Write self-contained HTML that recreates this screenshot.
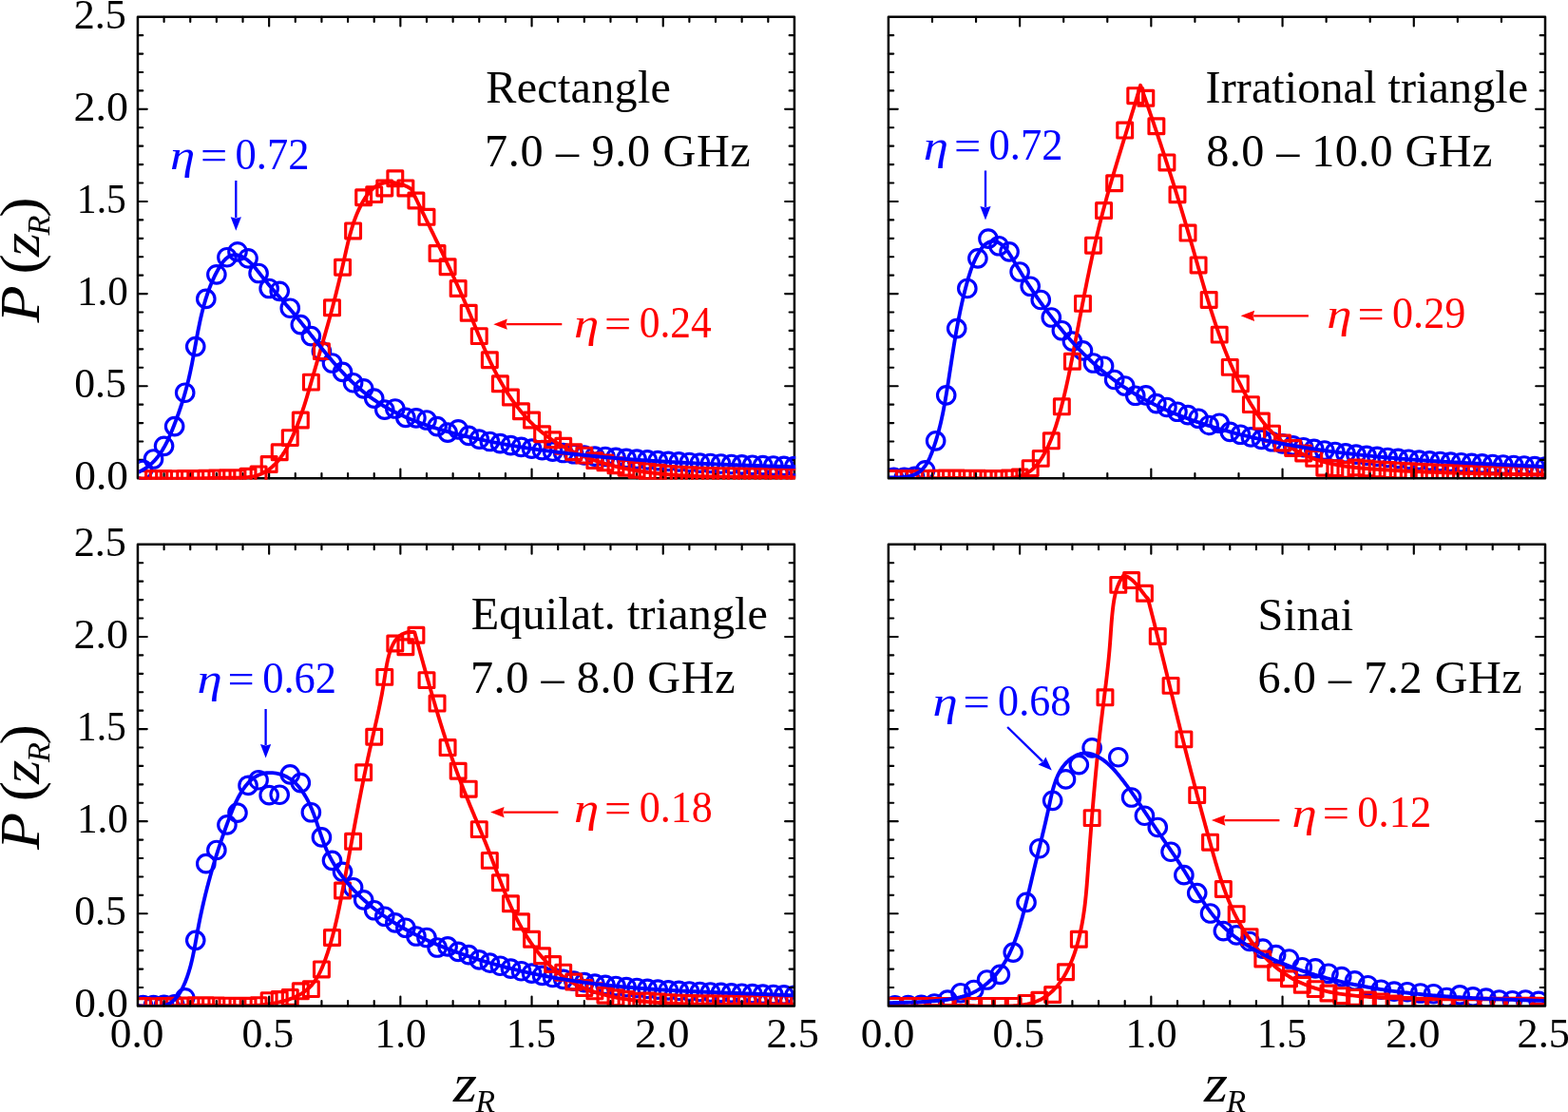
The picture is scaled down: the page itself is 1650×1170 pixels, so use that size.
<!DOCTYPE html>
<html><head><meta charset="utf-8"><title>P(zR) distributions</title>
<style>
html,body{margin:0;padding:0;background:#fff;}
body{width:1650px;height:1170px;overflow:hidden;}
svg{display:block;}
svg text{font-family:"Liberation Serif","DejaVu Serif",serif;fill:#000;}
.i{font-style:italic;}
</style></head><body>
<svg width="1650" height="1170" viewBox="0 0 1650 1170">
<rect width="1650" height="1170" fill="#fff"/>
<defs>
<clipPath id="c0"><rect x="146.2" y="18.95" width="691" height="485.8"/></clipPath>
<clipPath id="c1"><rect x="934.9" y="17.7" width="691.1" height="485.65"/></clipPath>
<clipPath id="c2"><rect x="144.95" y="572.85" width="691" height="485.55"/></clipPath>
<clipPath id="c3"><rect x="934.9" y="572.85" width="691.1" height="485.55"/></clipPath>
</defs>
<g><path d="M144.95 483.92h5.3M835.95 483.92h-5.3M144.95 464.5h5.3M835.95 464.5h-5.3M144.95 445.07h5.3M835.95 445.07h-5.3M144.95 425.65h5.3M835.95 425.65h-5.3M144.95 406.22h9.8M835.95 406.22h-9.8M144.95 386.79h5.3M835.95 386.79h-5.3M144.95 367.37h5.3M835.95 367.37h-5.3M144.95 347.94h5.3M835.95 347.94h-5.3M144.95 328.52h5.3M835.95 328.52h-5.3M144.95 309.09h9.8M835.95 309.09h-9.8M144.95 289.66h5.3M835.95 289.66h-5.3M144.95 270.24h5.3M835.95 270.24h-5.3M144.95 250.81h5.3M835.95 250.81h-5.3M144.95 231.39h5.3M835.95 231.39h-5.3M144.95 211.96h9.8M835.95 211.96h-9.8M144.95 192.53h5.3M835.95 192.53h-5.3M144.95 173.11h5.3M835.95 173.11h-5.3M144.95 153.68h5.3M835.95 153.68h-5.3M144.95 134.26h5.3M835.95 134.26h-5.3M144.95 114.83h9.8M835.95 114.83h-9.8M144.95 95.4h5.3M835.95 95.4h-5.3M144.95 75.98h5.3M835.95 75.98h-5.3M144.95 56.55h5.3M835.95 56.55h-5.3M144.95 37.13h5.3M835.95 37.13h-5.3M172.59 17.7v5.3M172.59 503.35v-5.3M200.23 17.7v5.3M200.23 503.35v-5.3M227.87 17.7v5.3M227.87 503.35v-5.3M255.51 17.7v5.3M255.51 503.35v-5.3M283.15 17.7v9.8M283.15 503.35v-9.8M310.79 17.7v5.3M310.79 503.35v-5.3M338.43 17.7v5.3M338.43 503.35v-5.3M366.07 17.7v5.3M366.07 503.35v-5.3M393.71 17.7v5.3M393.71 503.35v-5.3M421.35 17.7v9.8M421.35 503.35v-9.8M448.99 17.7v5.3M448.99 503.35v-5.3M476.63 17.7v5.3M476.63 503.35v-5.3M504.27 17.7v5.3M504.27 503.35v-5.3M531.91 17.7v5.3M531.91 503.35v-5.3M559.55 17.7v9.8M559.55 503.35v-9.8M587.19 17.7v5.3M587.19 503.35v-5.3M614.83 17.7v5.3M614.83 503.35v-5.3M642.47 17.7v5.3M642.47 503.35v-5.3M670.11 17.7v5.3M670.11 503.35v-5.3M697.75 17.7v9.8M697.75 503.35v-9.8M725.39 17.7v5.3M725.39 503.35v-5.3M753.03 17.7v5.3M753.03 503.35v-5.3M780.67 17.7v5.3M780.67 503.35v-5.3M808.31 17.7v5.3M808.31 503.35v-5.3" stroke="#000" stroke-width="2.15" stroke-linecap="round" fill="none"/>
<rect x="144.95" y="17.7" width="691" height="485.65" fill="none" stroke="#000" stroke-width="2.5" stroke-linejoin="round"/>
<g clip-path="url(#c0)" fill="none">
<g stroke="#0000ff" stroke-width="3.15"><circle cx="150.48" cy="494.4" r="9.25"/><circle cx="161.53" cy="483" r="9.25"/><circle cx="172.59" cy="469.3" r="9.25"/><circle cx="183.65" cy="448.6" r="9.25"/><circle cx="194.7" cy="413.2" r="9.25"/><circle cx="205.76" cy="364.6" r="9.25"/><circle cx="216.81" cy="314.4" r="9.25"/><circle cx="227.87" cy="288.8" r="9.25"/><circle cx="238.93" cy="270.7" r="9.25"/><circle cx="249.98" cy="264.8" r="9.25"/><circle cx="261.04" cy="271.8" r="9.25"/><circle cx="272.09" cy="287.5" r="9.25"/><circle cx="283.15" cy="303.5" r="9.25"/><circle cx="294.21" cy="306.3" r="9.25"/><circle cx="305.26" cy="324.2" r="9.25"/><circle cx="316.32" cy="341.6" r="9.25"/><circle cx="327.37" cy="353.6" r="9.25"/><circle cx="338.43" cy="369.6" r="9.25"/><circle cx="349.49" cy="382" r="9.25"/><circle cx="360.54" cy="391.4" r="9.25"/><circle cx="371.6" cy="402.7" r="9.25"/><circle cx="382.65" cy="408.8" r="9.25"/><circle cx="393.71" cy="419.1" r="9.25"/><circle cx="404.77" cy="431.1" r="9.25"/><circle cx="415.82" cy="430" r="9.25"/><circle cx="426.88" cy="439.4" r="9.25"/><circle cx="437.93" cy="439.8" r="9.25"/><circle cx="448.99" cy="442" r="9.25"/><circle cx="460.05" cy="448.6" r="9.25"/><circle cx="471.1" cy="455.1" r="9.25"/><circle cx="482.16" cy="451.8" r="9.25"/><circle cx="493.21" cy="458.4" r="9.25"/><circle cx="504.27" cy="462.19" r="9.25"/><circle cx="515.33" cy="464.48" r="9.25"/><circle cx="526.38" cy="466.61" r="9.25"/><circle cx="537.44" cy="468.58" r="9.25"/><circle cx="548.49" cy="470.41" r="9.25"/><circle cx="559.55" cy="472.11" r="9.25"/><circle cx="570.61" cy="473.69" r="9.25"/><circle cx="581.66" cy="475.15" r="9.25"/><circle cx="592.72" cy="476.51" r="9.25"/><circle cx="603.77" cy="477.77" r="9.25"/><circle cx="614.83" cy="478.95" r="9.25"/><circle cx="625.89" cy="480.05" r="9.25"/><circle cx="636.94" cy="480.48" r="9.25"/><circle cx="648" cy="481.44" r="9.25"/><circle cx="659.05" cy="482.33" r="9.25"/><circle cx="670.11" cy="483.16" r="9.25"/><circle cx="681.17" cy="483.93" r="9.25"/><circle cx="692.22" cy="484.65" r="9.25"/><circle cx="703.28" cy="485.32" r="9.25"/><circle cx="714.33" cy="485.94" r="9.25"/><circle cx="725.39" cy="486.51" r="9.25"/><circle cx="736.45" cy="487.05" r="9.25"/><circle cx="747.5" cy="487.54" r="9.25"/><circle cx="758.56" cy="488.01" r="9.25"/><circle cx="769.61" cy="488.45" r="9.25"/><circle cx="780.67" cy="488.86" r="9.25"/><circle cx="791.73" cy="489.25" r="9.25"/><circle cx="802.78" cy="489.62" r="9.25"/><circle cx="813.84" cy="489.97" r="9.25"/><circle cx="824.89" cy="490.32" r="9.25"/><circle cx="835.95" cy="490.65" r="9.25"/></g>
<path d="M142.58 495.46h15.8v15.8h-15.8zM153.63 495.58h15.8v15.8h-15.8zM164.69 495.67h15.8v15.8h-15.8zM175.75 495.71h15.8v15.8h-15.8zM186.8 495.68h15.8v15.8h-15.8zM197.86 495.55h15.8v15.8h-15.8zM208.91 495.31h15.8v15.8h-15.8zM219.97 495.03h15.8v15.8h-15.8zM231.03 494.85h15.8v15.8h-15.8zM242.08 494.79h15.8v15.8h-15.8zM253.14 493.3h15.8v15.8h-15.8zM264.19 491h15.8v15.8h-15.8zM275.25 480.6h15.8v15.8h-15.8zM286.31 467.9h15.8v15.8h-15.8zM297.36 452.7h15.8v15.8h-15.8zM308.42 434.1h15.8v15.8h-15.8zM319.47 394.2h15.8v15.8h-15.8zM330.53 361.7h15.8v15.8h-15.8zM341.59 315.9h15.8v15.8h-15.8zM352.64 273.3h15.8v15.8h-15.8zM363.7 235h15.8v15.8h-15.8zM374.75 199.8h15.8v15.8h-15.8zM385.81 196.7h15.8v15.8h-15.8zM396.87 190h15.8v15.8h-15.8zM407.92 179.8h15.8v15.8h-15.8zM418.98 190h15.8v15.8h-15.8zM430.03 203.1h15.8v15.8h-15.8zM441.09 220.4h15.8v15.8h-15.8zM452.15 258.6h15.8v15.8h-15.8zM463.2 272.8h15.8v15.8h-15.8zM474.26 295.6h15.8v15.8h-15.8zM485.31 321.4h15.8v15.8h-15.8zM496.37 345.7h15.8v15.8h-15.8zM507.43 370.8h15.8v15.8h-15.8zM518.48 395.9h15.8v15.8h-15.8zM529.54 410.1h15.8v15.8h-15.8zM540.59 424.9h15.8v15.8h-15.8zM551.65 434.1h15.8v15.8h-15.8zM562.71 448.9h15.8v15.8h-15.8zM573.76 454.8h15.8v15.8h-15.8zM584.82 461.4h15.8v15.8h-15.8zM595.87 467.9h15.8v15.8h-15.8zM606.93 471.2h15.8v15.8h-15.8zM617.99 476.7h15.8v15.8h-15.8zM629.04 478.97h15.8v15.8h-15.8zM640.1 481.87h15.8v15.8h-15.8zM651.15 484.32h15.8v15.8h-15.8zM662.21 486.36h15.8v15.8h-15.8zM673.27 488.03h15.8v15.8h-15.8zM684.32 489.39h15.8v15.8h-15.8zM695.38 490.46h15.8v15.8h-15.8zM706.43 491.28h15.8v15.8h-15.8zM717.49 491.88h15.8v15.8h-15.8zM728.55 492.3h15.8v15.8h-15.8zM739.6 492.56h15.8v15.8h-15.8zM750.66 492.7h15.8v15.8h-15.8zM761.71 492.77h15.8v15.8h-15.8zM772.77 492.8h15.8v15.8h-15.8zM783.83 492.82h15.8v15.8h-15.8zM794.88 492.87h15.8v15.8h-15.8zM805.94 492.98h15.8v15.8h-15.8zM816.99 493.19h15.8v15.8h-15.8zM828.05 493.54h15.8v15.8h-15.8z" stroke="#ff0000" stroke-width="3.15" stroke-linejoin="round"/>
<path d="M144.9 503.3 L146.87 503.32 L148.85 503.34 L150.83 503.37 L152.82 503.39 L154.81 503.41 L156.81 503.43 L158.81 503.45 L160.81 503.47 L162.81 503.49 L164.82 503.51 L166.83 503.53 L168.85 503.54 L170.86 503.56 L172.88 503.57 L174.89 503.58 L176.91 503.59 L178.93 503.6 L180.94 503.61 L182.96 503.61 L184.98 503.61 L186.99 503.61 L189 503.61 L191.01 503.6 L193.02 503.59 L195.02 503.58 L197.03 503.56 L199.02 503.55 L201.02 503.52 L203.01 503.5 L204.99 503.47 L206.97 503.43 L208.95 503.39 L210.92 503.35 L212.88 503.31 L214.85 503.26 L216.81 503.21 L218.77 503.16 L220.73 503.11 L222.69 503.05 L224.66 503 L226.63 502.96 L228.61 502.91 L230.6 502.87 L232.6 502.83 L234.61 502.8 L236.63 502.77 L238.66 502.75 L240.71 502.74 L242.78 502.74 L244.85 502.73 L246.94 502.73 L249.02 502.71 L251.11 502.67 L253.2 502.62 L255.27 502.53 L257.33 502.41 L259.37 502.25 L261.4 502.04 L263.39 501.78 L265.36 501.45 L267.29 501.07 L269.19 500.61 L271.04 500.07 L272.85 499.45 L274.61 498.74 L276.32 497.96 L278 497.11 L279.62 496.17 L281.21 495.17 L282.76 494.1 L284.26 492.97 L285.73 491.77 L287.16 490.51 L288.54 489.2 L289.9 487.83 L291.21 486.4 L292.49 484.93 L293.74 483.42 L294.96 481.85 L296.14 480.25 L297.29 478.61 L298.4 476.93 L299.49 475.23 L300.55 473.49 L301.59 471.72 L302.59 469.93 L303.57 468.11 L304.52 466.28 L305.45 464.43 L306.36 462.56 L307.24 460.68 L308.1 458.8 L308.94 456.91 L309.76 455.01 L310.56 453.12 L311.34 451.22 L312.11 449.33 L312.86 447.44 L313.59 445.55 L314.3 443.67 L315 441.78 L315.69 439.9 L316.36 438.01 L317.02 436.13 L317.67 434.25 L318.31 432.37 L318.93 430.48 L319.55 428.6 L320.15 426.72 L320.75 424.84 L321.34 422.96 L321.92 421.08 L322.49 419.19 L323.06 417.31 L323.62 415.43 L324.18 413.54 L324.73 411.65 L325.28 409.76 L325.83 407.87 L326.37 405.98 L326.92 404.09 L327.46 402.19 L328 400.29 L328.55 398.39 L329.09 396.49 L329.64 394.58 L330.19 392.67 L330.74 390.76 L331.29 388.85 L331.85 386.93 L332.4 385.01 L332.96 383.09 L333.52 381.17 L334.08 379.24 L334.64 377.32 L335.21 375.39 L335.77 373.46 L336.34 371.52 L336.9 369.59 L337.46 367.66 L338.03 365.72 L338.59 363.79 L339.15 361.85 L339.71 359.91 L340.27 357.97 L340.83 356.03 L341.39 354.1 L341.95 352.16 L342.5 350.22 L343.05 348.28 L343.6 346.34 L344.15 344.4 L344.69 342.47 L345.23 340.53 L345.77 338.6 L346.31 336.66 L346.84 334.73 L347.37 332.8 L347.89 330.87 L348.41 328.94 L348.92 327.01 L349.44 325.08 L349.95 323.15 L350.45 321.23 L350.95 319.3 L351.45 317.38 L351.94 315.45 L352.44 313.53 L352.92 311.6 L353.41 309.68 L353.89 307.75 L354.37 305.83 L354.85 303.9 L355.32 301.97 L355.79 300.04 L356.26 298.11 L356.72 296.18 L357.19 294.25 L357.65 292.31 L358.11 290.38 L358.56 288.44 L359.02 286.5 L359.47 284.56 L359.92 282.61 L360.37 280.67 L360.82 278.72 L361.26 276.76 L361.71 274.81 L362.15 272.85 L362.59 270.89 L363.03 268.92 L363.47 266.96 L363.91 264.99 L364.36 263.02 L364.81 261.05 L365.27 259.08 L365.73 257.12 L366.2 255.15 L366.68 253.19 L367.18 251.23 L367.68 249.28 L368.19 247.33 L368.72 245.38 L369.27 243.44 L369.83 241.51 L370.41 239.59 L371 237.67 L371.62 235.76 L372.26 233.86 L372.92 231.97 L373.6 230.09 L374.31 228.22 L375.04 226.37 L375.8 224.52 L376.59 222.69 L377.4 220.87 L378.25 219.07 L379.13 217.28 L380.04 215.51 L380.99 213.75 L381.97 212.01 L382.99 210.29 L384.05 208.6 L385.14 206.94 L386.29 205.32 L387.48 203.75 L388.72 202.25 L390.01 200.81 L391.36 199.45 L392.77 198.17 L394.24 196.99 L395.77 195.91 L397.37 194.94 L399.03 194.08 L400.77 193.36 L402.59 192.77 L404.48 192.32 L406.44 192.03 L408.48 191.88 L410.56 191.86 L412.67 191.98 L414.79 192.21 L416.92 192.56 L419.03 193.01 L421.11 193.56 L423.13 194.2 L425.09 194.92 L426.98 195.71 L428.76 196.57 L430.43 197.48 L431.97 198.45 L432.9 199.1 L433.78 200.91 L434.65 202.72 L435.53 204.53 L436.41 206.34 L437.29 208.14 L438.16 209.95 L439.04 211.75 L439.92 213.56 L440.8 215.36 L441.68 217.16 L442.56 218.96 L443.44 220.77 L444.32 222.57 L445.2 224.37 L446.08 226.16 L446.95 227.96 L447.83 229.76 L448.71 231.56 L449.59 233.36 L450.47 235.15 L451.34 236.95 L452.22 238.75 L453.09 240.54 L453.97 242.34 L454.84 244.13 L455.72 245.93 L456.59 247.73 L457.46 249.52 L458.33 251.32 L459.2 253.11 L460.07 254.91 L460.93 256.71 L461.8 258.5 L462.67 260.3 L463.53 262.1 L464.39 263.9 L465.25 265.69 L466.11 267.49 L466.97 269.29 L467.82 271.09 L468.68 272.89 L469.53 274.69 L470.38 276.49 L471.23 278.3 L472.08 280.1 L472.93 281.9 L473.77 283.71 L474.61 285.51 L475.45 287.32 L476.29 289.13 L477.12 290.94 L477.96 292.75 L478.79 294.56 L479.61 296.37 L480.44 298.18 L481.26 300 L482.08 301.81 L482.9 303.63 L483.72 305.45 L484.53 307.27 L485.34 309.09 L486.15 310.91 L486.95 312.74 L487.75 314.56 L488.55 316.39 L489.35 318.22 L490.14 320.05 L490.93 321.88 L491.72 323.72 L492.5 325.56 L493.28 327.39 L494.05 329.23 L494.83 331.08 L495.6 332.92 L496.36 334.77 L497.13 336.61 L497.89 338.46 L498.65 340.31 L499.42 342.16 L500.18 344.01 L500.94 345.86 L501.7 347.72 L502.47 349.57 L503.23 351.42 L504 353.27 L504.77 355.12 L505.54 356.97 L506.32 358.81 L507.1 360.66 L507.89 362.5 L508.68 364.35 L509.47 366.19 L510.28 368.03 L511.08 369.86 L511.9 371.7 L512.72 373.53 L513.55 375.36 L514.39 377.18 L515.23 379.01 L516.09 380.82 L516.96 382.64 L517.83 384.45 L518.72 386.25 L519.61 388.06 L520.52 389.85 L521.44 391.65 L522.37 393.43 L523.32 395.21 L524.28 396.99 L525.25 398.76 L526.24 400.53 L527.23 402.28 L528.25 404.03 L529.27 405.78 L530.31 407.51 L531.37 409.23 L532.43 410.95 L533.52 412.66 L534.61 414.35 L535.72 416.04 L536.85 417.71 L537.99 419.37 L539.14 421.03 L540.31 422.66 L541.49 424.29 L542.69 425.9 L543.9 427.5 L545.13 429.08 L546.38 430.65 L547.63 432.2 L548.91 433.74 L550.2 435.26 L551.5 436.77 L552.82 438.26 L554.16 439.73 L555.51 441.18 L556.87 442.61 L558.26 444.02 L559.66 445.42 L561.07 446.79 L562.5 448.15 L563.95 449.48 L565.41 450.79 L566.89 452.08 L568.39 453.35 L569.9 454.6 L571.43 455.82 L572.98 457.03 L574.53 458.21 L576.11 459.37 L577.7 460.51 L579.3 461.64 L580.92 462.74 L582.55 463.82 L584.19 464.88 L585.85 465.92 L587.52 466.94 L589.21 467.94 L590.9 468.93 L592.61 469.89 L594.33 470.84 L596.07 471.76 L597.81 472.67 L599.57 473.56 L601.34 474.44 L603.11 475.29 L604.9 476.13 L606.7 476.94 L608.51 477.75 L610.33 478.53 L612.16 479.3 L614 480.05 L615.85 480.78 L617.71 481.5 L619.57 482.2 L621.45 482.88 L623.33 483.55 L625.22 484.21 L627.11 484.84 L629.02 485.47 L630.93 486.07 L632.85 486.66 L634.78 487.24 L636.71 487.8 L638.65 488.35 L640.59 488.88 L642.54 489.4 L644.5 489.91 L646.46 490.4 L648.42 490.88 L650.39 491.34 L652.37 491.79 L654.34 492.23 L656.33 492.66 L658.31 493.07 L660.3 493.47 L662.29 493.86 L664.29 494.23 L666.29 494.59 L668.29 494.95 L670.29 495.29 L672.29 495.61 L674.3 495.93 L676.31 496.24 L678.31 496.53 L680.32 496.82 L682.33 497.09 L684.34 497.35 L686.35 497.61 L688.36 497.85 L690.37 498.08 L692.38 498.31 L694.39 498.52 L696.4 498.73 L698.4 498.92 L700.41 499.11 L702.41 499.29 L704.41 499.46 L706.41 499.62 L708.41 499.77 L710.41 499.92 L712.41 500.06 L714.4 500.19 L716.4 500.31 L718.39 500.43 L720.39 500.54 L722.38 500.64 L724.37 500.74 L726.36 500.83 L728.35 500.91 L730.34 500.99 L732.33 501.06 L734.32 501.13 L736.31 501.19 L738.29 501.25 L740.28 501.3 L742.27 501.35 L744.25 501.39 L746.24 501.43 L748.22 501.47 L750.21 501.5 L752.19 501.53 L754.18 501.56 L756.16 501.58 L758.15 501.6 L760.14 501.62 L762.12 501.63 L764.11 501.65 L766.09 501.66 L768.08 501.67 L770.06 501.67 L772.05 501.68 L774.04 501.69 L776.02 501.69 L778.01 501.69 L780 501.7 L781.99 501.7 L783.98 501.7 L785.97 501.71 L787.96 501.71 L789.95 501.71 L791.94 501.72 L793.93 501.72 L795.93 501.73 L797.92 501.74 L799.92 501.75 L801.91 501.76 L803.91 501.77 L805.91 501.79 L807.91 501.81 L809.91 501.83 L811.91 501.85 L813.92 501.88 L815.92 501.91 L817.93 501.95 L819.94 501.98 L821.95 502.02 L823.96 502.07 L825.97 502.12 L827.98 502.17 L830 502.23 L832.02 502.3 L834.04 502.37 L836.06 502.44 L837.5 502.5" stroke="#ff0000" stroke-width="3.9" stroke-linejoin="round"/>
<path d="M144.9 497 L146.86 496.14 L148.75 495.21 L150.57 494.22 L152.33 493.17 L154.02 492.06 L155.65 490.89 L157.21 489.67 L158.72 488.4 L160.18 487.07 L161.58 485.7 L162.93 484.29 L164.23 482.83 L165.48 481.33 L166.69 479.79 L167.85 478.21 L168.97 476.6 L170.05 474.96 L171.1 473.29 L172.11 471.58 L173.08 469.86 L174.03 468.11 L174.95 466.34 L175.84 464.54 L176.7 462.74 L177.55 460.91 L178.37 459.08 L179.18 457.23 L179.96 455.38 L180.74 453.51 L181.5 451.65 L182.25 449.78 L182.99 447.91 L183.73 446.04 L184.45 444.17 L185.16 442.29 L185.86 440.42 L186.55 438.54 L187.23 436.65 L187.9 434.77 L188.57 432.88 L189.21 430.99 L189.85 429.1 L190.48 427.21 L191.1 425.31 L191.71 423.41 L192.31 421.51 L192.89 419.6 L193.47 417.7 L194.03 415.78 L194.59 413.87 L195.13 411.95 L195.66 410.03 L196.18 408.11 L196.69 406.18 L197.19 404.25 L197.68 402.32 L198.16 400.38 L198.62 398.44 L199.08 396.49 L199.52 394.54 L199.95 392.59 L200.37 390.63 L200.79 388.68 L201.19 386.71 L201.59 384.75 L201.98 382.78 L202.36 380.81 L202.74 378.84 L203.11 376.87 L203.48 374.9 L203.85 372.92 L204.21 370.95 L204.57 368.97 L204.93 366.99 L205.28 365.01 L205.64 363.04 L206 361.06 L206.36 359.08 L206.72 357.1 L207.09 355.13 L207.45 353.15 L207.83 351.18 L208.2 349.2 L208.59 347.23 L208.97 345.26 L209.37 343.3 L209.77 341.33 L210.19 339.37 L210.61 337.41 L211.04 335.45 L211.48 333.5 L211.93 331.55 L212.4 329.6 L212.87 327.66 L213.36 325.72 L213.87 323.79 L214.39 321.86 L214.92 319.93 L215.47 318.01 L216.04 316.1 L216.62 314.19 L217.23 312.29 L217.85 310.39 L218.49 308.5 L219.15 306.61 L219.84 304.73 L220.54 302.86 L221.27 301 L222.02 299.14 L222.8 297.29 L223.6 295.45 L224.42 293.61 L225.27 291.79 L226.15 289.97 L227.05 288.16 L227.98 286.36 L228.95 284.57 L229.94 282.79 L230.96 281.04 L232.02 279.33 L233.12 277.68 L234.27 276.1 L235.46 274.62 L236.7 273.25 L238 272.01 L239.35 270.91 L240.77 269.97 L242.25 269.21 L243.79 268.64 L245.41 268.29 L247.11 268.16 L248.88 268.28 L250.73 268.65 L252.63 269.26 L254.56 270.08 L256.48 271.07 L258.38 272.23 L260.21 273.51 L261.95 274.9 L263.58 276.36 L265.12 277.89 L266.56 279.47 L267.94 281.08 L269.28 282.72 L270.57 284.37 L271.86 286.01 L273.14 287.64 L274.42 289.25 L275.7 290.85 L276.99 292.43 L278.27 294 L279.56 295.55 L280.85 297.1 L282.13 298.63 L283.42 300.15 L284.71 301.67 L285.99 303.17 L287.28 304.67 L288.57 306.16 L289.85 307.65 L291.14 309.13 L292.43 310.61 L293.71 312.08 L294.99 313.55 L296.28 315.02 L297.56 316.49 L298.84 317.96 L300.12 319.44 L301.4 320.91 L302.67 322.39 L303.95 323.87 L305.22 325.36 L306.49 326.85 L307.76 328.35 L309.03 329.86 L310.29 331.37 L311.56 332.9 L312.82 334.43 L314.08 335.97 L315.33 337.51 L316.59 339.06 L317.85 340.62 L319.1 342.18 L320.36 343.74 L321.61 345.31 L322.87 346.89 L324.13 348.46 L325.38 350.04 L326.64 351.62 L327.9 353.21 L329.16 354.79 L330.43 356.38 L331.69 357.96 L332.96 359.55 L334.23 361.13 L335.51 362.71 L336.78 364.3 L338.07 365.88 L339.35 367.45 L340.64 369.03 L341.93 370.6 L343.23 372.16 L344.53 373.72 L345.84 375.28 L347.15 376.83 L348.47 378.37 L349.79 379.91 L351.12 381.44 L352.46 382.97 L353.8 384.48 L355.15 385.99 L356.51 387.49 L357.87 388.97 L359.25 390.45 L360.63 391.92 L362.02 393.38 L363.41 394.82 L364.82 396.26 L366.23 397.68 L367.66 399.09 L369.09 400.48 L370.54 401.87 L371.99 403.23 L373.45 404.59 L374.93 405.92 L376.41 407.24 L377.91 408.55 L379.42 409.84 L380.94 411.11 L382.47 412.36 L384.01 413.6 L385.57 414.82 L387.14 416.01 L388.72 417.19 L390.32 418.35 L391.92 419.49 L393.54 420.61 L395.17 421.72 L396.82 422.8 L398.47 423.87 L400.14 424.91 L401.82 425.94 L403.51 426.96 L405.21 427.95 L406.92 428.93 L408.64 429.89 L410.37 430.84 L412.11 431.77 L413.86 432.68 L415.62 433.58 L417.39 434.46 L419.17 435.32 L420.95 436.18 L422.75 437.01 L424.55 437.83 L426.37 438.64 L428.19 439.43 L430.01 440.21 L431.85 440.98 L433.69 441.73 L435.54 442.47 L437.4 443.2 L439.26 443.91 L441.13 444.61 L443.01 445.3 L444.89 445.98 L446.78 446.65 L448.67 447.3 L450.57 447.94 L452.48 448.57 L454.38 449.2 L456.3 449.81 L458.22 450.41 L460.14 451 L462.07 451.58 L464 452.15 L465.93 452.71 L467.87 453.26 L469.81 453.81 L471.75 454.34 L473.7 454.87 L475.64 455.39 L477.6 455.9 L479.55 456.4 L481.5 456.9 L483.46 457.39 L485.42 457.87 L487.38 458.34 L489.34 458.81 L491.3 459.27 L493.26 459.73 L495.22 460.18 L497.18 460.63 L499.15 461.07 L501.11 461.5 L503.07 461.93 L505.04 462.35 L507 462.77 L508.96 463.18 L510.93 463.59 L512.89 463.99 L514.86 464.39 L516.83 464.78 L518.79 465.16 L520.76 465.54 L522.72 465.92 L524.69 466.29 L526.66 466.66 L528.63 467.02 L530.6 467.38 L532.56 467.73 L534.53 468.08 L536.5 468.42 L538.47 468.76 L540.44 469.09 L542.41 469.42 L544.38 469.75 L546.36 470.07 L548.33 470.39 L550.3 470.7 L552.27 471.01 L554.24 471.31 L556.22 471.61 L558.19 471.91 L560.17 472.2 L562.14 472.49 L564.11 472.78 L566.09 473.06 L568.07 473.34 L570.04 473.61 L572.02 473.88 L574 474.15 L575.97 474.41 L577.95 474.67 L579.93 474.93 L581.91 475.18 L583.89 475.43 L585.87 475.68 L587.85 475.92 L589.83 476.16 L591.81 476.4 L593.79 476.63 L595.77 476.86 L597.75 477.09 L599.73 477.32 L601.72 477.54 L603.7 477.76 L605.69 477.98 L607.67 478.2 L609.65 478.41 L611.64 478.62 L613.63 478.83 L615.61 479.03 L617.6 479.23 L619.58 479.43 L621.57 479.63 L623.56 479.83 L625.55 480.02 L627.54 480.21 L629.53 480.4 L631.51 480.59 L633.5 480.77 L635.49 480.95 L637.48 481.13 L639.48 481.31 L641.47 481.48 L643.46 481.65 L645.45 481.83 L647.44 481.99 L649.43 482.16 L651.43 482.32 L653.42 482.49 L655.41 482.65 L657.41 482.8 L659.4 482.96 L661.4 483.11 L663.39 483.27 L665.38 483.42 L667.38 483.56 L669.37 483.71 L671.37 483.85 L673.37 484 L675.36 484.14 L677.36 484.27 L679.36 484.41 L681.35 484.55 L683.35 484.68 L685.35 484.81 L687.34 484.94 L689.34 485.07 L691.34 485.2 L693.34 485.32 L695.33 485.44 L697.33 485.57 L699.33 485.68 L701.33 485.8 L703.33 485.92 L705.33 486.04 L707.33 486.15 L709.33 486.26 L711.32 486.37 L713.32 486.48 L715.32 486.59 L717.32 486.7 L719.32 486.8 L721.32 486.9 L723.32 487.01 L725.32 487.11 L727.32 487.21 L729.32 487.31 L731.32 487.4 L733.32 487.5 L735.32 487.59 L737.32 487.69 L739.32 487.78 L741.32 487.87 L743.32 487.96 L745.32 488.05 L747.33 488.14 L749.33 488.22 L751.33 488.31 L753.33 488.39 L755.33 488.48 L757.33 488.56 L759.33 488.64 L761.33 488.72 L763.33 488.8 L765.33 488.88 L767.33 488.96 L769.33 489.04 L771.33 489.11 L773.33 489.19 L775.33 489.26 L777.33 489.34 L779.33 489.41 L781.33 489.48 L783.33 489.55 L785.33 489.62 L787.33 489.69 L789.32 489.76 L791.32 489.83 L793.32 489.9 L795.32 489.97 L797.32 490.04 L799.32 490.1 L801.32 490.17 L803.31 490.23 L805.31 490.3 L807.31 490.36 L809.31 490.43 L811.3 490.49 L813.3 490.56 L815.3 490.62 L817.3 490.68 L819.29 490.74 L821.29 490.81 L823.28 490.87 L825.28 490.93 L827.28 490.99 L829.27 491.05 L831.27 491.11 L833.26 491.17 L835.26 491.23 L837.25 491.29 L837.5 491.3" stroke="#0000ff" stroke-width="3.9" stroke-linejoin="round"/>
</g>
<path d="M248.3 190L248.3 229.2" stroke="#0000ff" stroke-width="2.3" fill="none"/>
<path d="M248.3 242.7L242.7 228.2L248.3 229.7L253.9 228.2z" fill="#0000ff"/>
<path d="M591.3 341.2L532.8 341.2" stroke="#ff0000" stroke-width="2.3" fill="none"/>
<path d="M519.3 341.2L533.8 335.6L532.3 341.2L533.8 346.8z" fill="#ff0000"/>
<text x="511.31" y="107.95" font-size="48.2" textLength="194.66" lengthAdjust="spacing">Rectangle</text>
<text x="510.12" y="174.65" font-size="48.2" textLength="279.62" lengthAdjust="spacing">7.0 – 9.0 GHz</text>
<text transform="translate(178.91,178.10) scale(1.1698,1)" font-size="45.3" class="i" style="fill:#0000ff">η</text>
<text transform="translate(211.01,178.10) scale(1.1053,1)" font-size="45.3" style="fill:#0000ff">=</text>
<text transform="translate(247.60,178.10) scale(0.9600,1)" font-size="46.4" style="fill:#0000ff">0.72</text>
<text transform="translate(604.01,355.20) scale(1.1698,1)" font-size="45.3" class="i" style="fill:#ff0000">η</text>
<text transform="translate(636.11,355.20) scale(1.1053,1)" font-size="45.3" style="fill:#ff0000">=</text>
<text transform="translate(672.74,355.20) scale(0.9376,1)" font-size="46.4" style="fill:#ff0000">0.24</text>
<text transform="translate(78.27,515.35) scale(1.0068,1)" font-size="45.1">0.0</text>
<text transform="translate(78.23,418.22) scale(0.9698,1)" font-size="45.1">0.5</text>
<text transform="translate(80.90,321.09) scale(0.9587,1)" font-size="45.1">1.0</text>
<text transform="translate(80.85,223.96) scale(0.9220,1)" font-size="45.1">1.5</text>
<text transform="translate(77.48,126.83) scale(1.0213,1)" font-size="45.1">2.0</text>
<text transform="translate(77.66,29.70) scale(0.9804,1)" font-size="45.1">2.5</text></g>
<g><g clip-path="url(#c1)" fill="none">
<g stroke="#0000ff" stroke-width="3.15"><circle cx="940.43" cy="502.22" r="9.25"/><circle cx="951.49" cy="502.22" r="9.25"/><circle cx="962.54" cy="501.35" r="9.25"/><circle cx="973.6" cy="494.8" r="9.25"/><circle cx="984.66" cy="463.82" r="9.25"/><circle cx="995.72" cy="415.82" r="9.25"/><circle cx="1006.77" cy="345.56" r="9.25"/><circle cx="1017.83" cy="303.45" r="9.25"/><circle cx="1028.89" cy="271.82" r="9.25"/><circle cx="1039.95" cy="251.09" r="9.25"/><circle cx="1051" cy="258.73" r="9.25"/><circle cx="1062.06" cy="264.84" r="9.25"/><circle cx="1073.12" cy="286" r="9.25"/><circle cx="1084.18" cy="301.27" r="9.25"/><circle cx="1095.24" cy="315.45" r="9.25"/><circle cx="1106.29" cy="334" r="9.25"/><circle cx="1117.35" cy="347.75" r="9.25"/><circle cx="1128.41" cy="359.09" r="9.25"/><circle cx="1139.47" cy="368.91" r="9.25"/><circle cx="1150.52" cy="382" r="9.25"/><circle cx="1161.58" cy="385.27" r="9.25"/><circle cx="1172.64" cy="399.45" r="9.25"/><circle cx="1183.7" cy="406" r="9.25"/><circle cx="1194.75" cy="416.25" r="9.25"/><circle cx="1205.81" cy="415.82" r="9.25"/><circle cx="1216.87" cy="424.55" r="9.25"/><circle cx="1227.93" cy="428.47" r="9.25"/><circle cx="1238.98" cy="433.27" r="9.25"/><circle cx="1250.04" cy="436.55" r="9.25"/><circle cx="1261.1" cy="440.25" r="9.25"/><circle cx="1272.16" cy="447.45" r="9.25"/><circle cx="1283.21" cy="445.27" r="9.25"/><circle cx="1294.27" cy="454.36" r="9.25"/><circle cx="1305.33" cy="457.24" r="9.25"/><circle cx="1316.39" cy="459.92" r="9.25"/><circle cx="1327.44" cy="462.41" r="9.25"/><circle cx="1338.5" cy="464.73" r="9.25"/><circle cx="1349.56" cy="466.87" r="9.25"/><circle cx="1360.62" cy="468.86" r="9.25"/><circle cx="1371.68" cy="470.71" r="9.25"/><circle cx="1382.73" cy="472.43" r="9.25"/><circle cx="1393.79" cy="474.03" r="9.25"/><circle cx="1404.85" cy="475.51" r="9.25"/><circle cx="1415.91" cy="476.88" r="9.25"/><circle cx="1426.96" cy="478.16" r="9.25"/><circle cx="1438.02" cy="479.34" r="9.25"/><circle cx="1449.08" cy="480.43" r="9.25"/><circle cx="1460.14" cy="481.45" r="9.25"/><circle cx="1471.19" cy="482.39" r="9.25"/><circle cx="1482.25" cy="483.26" r="9.25"/><circle cx="1493.31" cy="484.06" r="9.25"/><circle cx="1504.37" cy="484.81" r="9.25"/><circle cx="1515.42" cy="485.52" r="9.25"/><circle cx="1526.48" cy="486.17" r="9.25"/><circle cx="1537.54" cy="486.79" r="9.25"/><circle cx="1548.6" cy="487.38" r="9.25"/><circle cx="1559.65" cy="487.94" r="9.25"/><circle cx="1570.71" cy="488.48" r="9.25"/><circle cx="1581.77" cy="489.01" r="9.25"/><circle cx="1592.83" cy="489.53" r="9.25"/><circle cx="1603.88" cy="490.04" r="9.25"/><circle cx="1614.94" cy="490.56" r="9.25"/><circle cx="1626" cy="491.09" r="9.25"/></g>
<path d="M932.53 495.46h15.8v15.8h-15.8zM943.59 495.61h15.8v15.8h-15.8zM954.64 495.59h15.8v15.8h-15.8zM965.7 495.46h15.8v15.8h-15.8zM976.76 495.29h15.8v15.8h-15.8zM987.82 495.15h15.8v15.8h-15.8zM998.87 495.11h15.8v15.8h-15.8zM1009.93 495.22h15.8v15.8h-15.8zM1020.99 495.43h15.8v15.8h-15.8zM1032.05 495.61h15.8v15.8h-15.8zM1043.1 495.67h15.8v15.8h-15.8zM1054.16 495.15h15.8v15.8h-15.8zM1065.22 494.1h15.8v15.8h-15.8zM1076.28 484.72h15.8v15.8h-15.8zM1087.34 474.46h15.8v15.8h-15.8zM1098.39 455.92h15.8v15.8h-15.8zM1109.45 419.92h15.8v15.8h-15.8zM1120.51 372.35h15.8v15.8h-15.8zM1131.57 311.48h15.8v15.8h-15.8zM1142.62 250.28h15.8v15.8h-15.8zM1153.68 213.63h15.8v15.8h-15.8zM1164.74 184.83h15.8v15.8h-15.8zM1175.8 129.19h15.8v15.8h-15.8zM1186.85 92.75h15.8v15.8h-15.8zM1197.91 95.37h15.8v15.8h-15.8zM1208.97 124.83h15.8v15.8h-15.8zM1220.03 163.01h15.8v15.8h-15.8zM1231.08 196.83h15.8v15.8h-15.8zM1242.14 237.19h15.8v15.8h-15.8zM1253.2 271.01h15.8v15.8h-15.8zM1264.26 307.55h15.8v15.8h-15.8zM1275.31 344.21h15.8v15.8h-15.8zM1286.37 378.46h15.8v15.8h-15.8zM1297.43 395.92h15.8v15.8h-15.8zM1308.49 417.74h15.8v15.8h-15.8zM1319.54 435.19h15.8v15.8h-15.8zM1330.6 448.28h15.8v15.8h-15.8zM1341.66 458.1h15.8v15.8h-15.8zM1352.72 463.55h15.8v15.8h-15.8zM1363.78 469.01h15.8v15.8h-15.8zM1374.83 474.46h15.8v15.8h-15.8zM1385.89 484.28h15.8v15.8h-15.8zM1396.95 484.72h15.8v15.8h-15.8zM1408.01 486.46h15.8v15.8h-15.8zM1419.06 484.09h15.8v15.8h-15.8zM1430.12 485.15h15.8v15.8h-15.8zM1441.18 485.97h15.8v15.8h-15.8zM1452.24 486.66h15.8v15.8h-15.8zM1463.29 487.28h15.8v15.8h-15.8zM1474.35 487.85h15.8v15.8h-15.8zM1485.41 488.36h15.8v15.8h-15.8zM1496.47 488.81h15.8v15.8h-15.8zM1507.52 489.22h15.8v15.8h-15.8zM1518.58 489.58h15.8v15.8h-15.8zM1529.64 489.9h15.8v15.8h-15.8zM1540.7 490.18h15.8v15.8h-15.8zM1551.75 490.43h15.8v15.8h-15.8zM1562.81 490.65h15.8v15.8h-15.8zM1573.87 490.85h15.8v15.8h-15.8zM1584.93 491.03h15.8v15.8h-15.8zM1595.98 491.19h15.8v15.8h-15.8zM1607.04 491.34h15.8v15.8h-15.8zM1618.1 491.48h15.8v15.8h-15.8z" stroke="#ff0000" stroke-width="3.15" stroke-linejoin="round"/>
<path d="M934.9 503.2 L936.91 503.27 L938.92 503.32 L940.92 503.37 L942.93 503.41 L944.93 503.45 L946.94 503.47 L948.94 503.49 L950.94 503.51 L952.94 503.52 L954.95 503.52 L956.95 503.52 L958.95 503.51 L960.95 503.5 L962.94 503.49 L964.94 503.47 L966.94 503.45 L968.94 503.42 L970.93 503.4 L972.93 503.37 L974.92 503.34 L976.92 503.31 L978.91 503.28 L980.91 503.25 L982.9 503.22 L984.9 503.19 L986.89 503.16 L988.88 503.13 L990.87 503.11 L992.87 503.08 L994.86 503.06 L996.85 503.04 L998.84 503.03 L1000.83 503.02 L1002.82 503.01 L1004.81 503.01 L1006.8 503.01 L1008.79 503.02 L1010.79 503.04 L1012.78 503.06 L1014.77 503.08 L1016.76 503.11 L1018.76 503.14 L1020.75 503.17 L1022.75 503.21 L1024.75 503.25 L1026.76 503.28 L1028.77 503.32 L1030.78 503.36 L1032.8 503.4 L1034.83 503.44 L1036.86 503.47 L1038.89 503.5 L1040.94 503.53 L1042.99 503.55 L1045.05 503.57 L1047.11 503.58 L1049.18 503.58 L1051.25 503.57 L1053.32 503.54 L1055.38 503.48 L1057.43 503.39 L1059.47 503.27 L1061.49 503.11 L1063.5 502.9 L1065.47 502.65 L1067.42 502.34 L1069.34 501.97 L1071.23 501.53 L1073.08 501.03 L1074.88 500.45 L1076.64 499.79 L1078.36 499.05 L1080.02 498.22 L1081.62 497.3 L1083.17 496.29 L1084.67 495.19 L1086.12 494.02 L1087.52 492.76 L1088.87 491.44 L1090.17 490.05 L1091.43 488.6 L1092.65 487.09 L1093.82 485.53 L1094.95 483.92 L1096.05 482.26 L1097.11 480.57 L1098.13 478.84 L1099.12 477.08 L1100.08 475.3 L1101.01 473.49 L1101.91 471.67 L1102.78 469.84 L1103.62 467.99 L1104.44 466.13 L1105.23 464.27 L1106 462.39 L1106.75 460.51 L1107.48 458.61 L1108.19 456.71 L1108.87 454.81 L1109.54 452.89 L1110.19 450.97 L1110.83 449.05 L1111.45 447.12 L1112.05 445.19 L1112.64 443.26 L1113.22 441.32 L1113.79 439.38 L1114.35 437.44 L1114.89 435.5 L1115.43 433.56 L1115.96 431.62 L1116.48 429.68 L1116.99 427.73 L1117.5 425.79 L1118 423.85 L1118.48 421.91 L1118.97 419.96 L1119.44 418.02 L1119.91 416.07 L1120.37 414.13 L1120.82 412.18 L1121.27 410.24 L1121.71 408.29 L1122.15 406.34 L1122.58 404.39 L1123.01 402.45 L1123.43 400.5 L1123.84 398.55 L1124.26 396.6 L1124.66 394.65 L1125.07 392.7 L1125.47 390.75 L1125.86 388.8 L1126.26 386.84 L1126.65 384.89 L1127.03 382.94 L1127.42 380.98 L1127.8 379.03 L1128.18 377.07 L1128.56 375.12 L1128.94 373.16 L1129.32 371.21 L1129.69 369.25 L1130.07 367.29 L1130.44 365.33 L1130.81 363.38 L1131.19 361.42 L1131.56 359.46 L1131.93 357.5 L1132.31 355.54 L1132.68 353.58 L1133.05 351.61 L1133.42 349.65 L1133.8 347.69 L1134.17 345.73 L1134.54 343.77 L1134.91 341.8 L1135.29 339.84 L1135.66 337.88 L1136.04 335.91 L1136.41 333.95 L1136.79 331.99 L1137.16 330.02 L1137.54 328.06 L1137.92 326.09 L1138.29 324.13 L1138.67 322.16 L1139.05 320.2 L1139.43 318.24 L1139.82 316.27 L1140.2 314.31 L1140.58 312.34 L1140.97 310.38 L1141.36 308.42 L1141.74 306.45 L1142.13 304.49 L1142.53 302.53 L1142.92 300.56 L1143.31 298.6 L1143.71 296.64 L1144.11 294.67 L1144.51 292.71 L1144.91 290.75 L1145.31 288.79 L1145.72 286.83 L1146.13 284.87 L1146.53 282.91 L1146.95 280.95 L1147.36 278.99 L1147.78 277.03 L1148.2 275.07 L1148.62 273.12 L1149.04 271.16 L1149.47 269.2 L1149.9 267.25 L1150.33 265.29 L1150.76 263.34 L1151.2 261.39 L1151.64 259.43 L1152.08 257.48 L1152.53 255.53 L1152.98 253.58 L1153.43 251.63 L1153.89 249.68 L1154.35 247.73 L1154.81 245.79 L1155.27 243.84 L1155.74 241.9 L1156.21 239.95 L1156.69 238.01 L1157.17 236.07 L1157.65 234.13 L1158.14 232.19 L1158.63 230.25 L1159.13 228.31 L1159.62 226.37 L1160.13 224.44 L1160.63 222.5 L1161.14 220.57 L1161.66 218.64 L1162.18 216.71 L1162.7 214.78 L1163.22 212.85 L1163.75 210.92 L1164.28 208.99 L1164.82 207.07 L1165.36 205.14 L1165.9 203.22 L1166.44 201.29 L1166.99 199.37 L1167.54 197.45 L1168.09 195.53 L1168.64 193.61 L1169.2 191.69 L1169.76 189.77 L1170.32 187.85 L1170.88 185.93 L1171.45 184.02 L1172.02 182.1 L1172.59 180.19 L1173.16 178.27 L1173.74 176.36 L1174.31 174.44 L1174.89 172.53 L1175.47 170.62 L1176.05 168.7 L1176.63 166.79 L1177.21 164.88 L1177.79 162.97 L1178.38 161.06 L1178.96 159.15 L1179.55 157.24 L1180.14 155.32 L1180.73 153.41 L1181.31 151.5 L1181.9 149.6 L1182.49 147.69 L1183.08 145.78 L1183.67 143.87 L1184.26 141.96 L1184.85 140.05 L1185.44 138.14 L1186.03 136.23 L1186.62 134.32 L1187.21 132.41 L1187.8 130.5 L1188.39 128.59 L1188.98 126.68 L1189.57 124.77 L1190.15 122.86 L1190.74 120.95 L1191.33 119.04 L1191.91 117.13 L1192.49 115.22 L1193.07 113.31 L1193.66 111.4 L1194.23 109.49 L1194.81 107.58 L1195.39 105.66 L1195.96 103.75 L1196.54 101.84 L1197.11 99.93 L1197.68 98.01 L1198.24 96.1 L1198.81 94.18 L1199.37 92.26 L1199.93 90.35 L1200.11 89.75 L1200.78 91.64 L1201.44 93.53 L1202.11 95.42 L1202.77 97.31 L1203.44 99.21 L1204.1 101.1 L1204.76 102.99 L1205.42 104.88 L1206.08 106.77 L1206.74 108.67 L1207.39 110.56 L1208.05 112.45 L1208.7 114.34 L1209.35 116.24 L1210 118.13 L1210.65 120.02 L1211.3 121.91 L1211.95 123.81 L1212.6 125.7 L1213.24 127.59 L1213.89 129.48 L1214.53 131.38 L1215.17 133.27 L1215.81 135.16 L1216.45 137.06 L1217.09 138.95 L1217.72 140.85 L1218.36 142.74 L1218.99 144.63 L1219.62 146.53 L1220.26 148.42 L1220.89 150.32 L1221.51 152.21 L1222.14 154.11 L1222.77 156.01 L1223.39 157.9 L1224.02 159.8 L1224.64 161.69 L1225.26 163.59 L1225.88 165.49 L1226.5 167.39 L1227.12 169.28 L1227.73 171.18 L1228.35 173.08 L1228.96 174.98 L1229.57 176.88 L1230.18 178.78 L1230.79 180.68 L1231.4 182.58 L1232.01 184.48 L1232.61 186.38 L1233.22 188.28 L1233.82 190.19 L1234.42 192.09 L1235.02 193.99 L1235.62 195.9 L1236.22 197.8 L1236.81 199.7 L1237.41 201.61 L1238 203.51 L1238.59 205.42 L1239.19 207.33 L1239.77 209.23 L1240.36 211.14 L1240.95 213.05 L1241.54 214.96 L1242.12 216.87 L1242.7 218.78 L1243.28 220.69 L1243.86 222.6 L1244.44 224.51 L1245.02 226.42 L1245.59 228.33 L1246.17 230.25 L1246.74 232.16 L1247.31 234.08 L1247.88 235.99 L1248.45 237.91 L1249.02 239.82 L1249.59 241.74 L1250.15 243.66 L1250.71 245.58 L1251.28 247.5 L1251.84 249.42 L1252.4 251.34 L1252.95 253.26 L1253.51 255.18 L1254.06 257.11 L1254.62 259.03 L1255.17 260.95 L1255.72 262.88 L1256.27 264.8 L1256.82 266.73 L1257.37 268.66 L1257.92 270.58 L1258.47 272.51 L1259.02 274.44 L1259.57 276.37 L1260.12 278.29 L1260.66 280.22 L1261.21 282.15 L1261.76 284.08 L1262.32 286 L1262.87 287.93 L1263.42 289.86 L1263.98 291.78 L1264.53 293.71 L1265.09 295.63 L1265.65 297.56 L1266.21 299.48 L1266.77 301.41 L1267.34 303.33 L1267.9 305.25 L1268.47 307.17 L1269.04 309.09 L1269.62 311.01 L1270.2 312.93 L1270.78 314.85 L1271.36 316.77 L1271.95 318.68 L1272.54 320.6 L1273.13 322.51 L1273.73 324.42 L1274.33 326.33 L1274.94 328.24 L1275.55 330.15 L1276.16 332.05 L1276.78 333.95 L1277.4 335.86 L1278.03 337.76 L1278.66 339.65 L1279.3 341.55 L1279.94 343.44 L1280.59 345.34 L1281.24 347.23 L1281.9 349.12 L1282.57 351 L1283.24 352.88 L1283.92 354.77 L1284.6 356.64 L1285.29 358.52 L1285.99 360.39 L1286.69 362.27 L1287.4 364.13 L1288.12 366 L1288.84 367.86 L1289.57 369.72 L1290.31 371.58 L1291.05 373.44 L1291.81 375.29 L1292.57 377.14 L1293.34 378.98 L1294.12 380.82 L1294.9 382.66 L1295.7 384.5 L1296.5 386.33 L1297.31 388.16 L1298.13 389.98 L1298.96 391.8 L1299.8 393.62 L1300.65 395.44 L1301.5 397.25 L1302.37 399.05 L1303.25 400.86 L1304.14 402.66 L1305.03 404.45 L1305.94 406.24 L1306.86 408.03 L1307.78 409.81 L1308.72 411.59 L1309.67 413.36 L1310.63 415.13 L1311.6 416.9 L1312.58 418.66 L1313.58 420.42 L1314.58 422.17 L1315.6 423.91 L1316.64 425.64 L1317.68 427.37 L1318.74 429.08 L1319.82 430.78 L1320.91 432.48 L1322.02 434.15 L1323.14 435.82 L1324.28 437.47 L1325.44 439.1 L1326.62 440.72 L1327.81 442.32 L1329.03 443.9 L1330.26 445.47 L1331.52 447.01 L1332.79 448.53 L1334.09 450.03 L1335.41 451.5 L1336.75 452.96 L1338.12 454.38 L1339.5 455.78 L1340.91 457.16 L1342.34 458.51 L1343.8 459.84 L1345.27 461.13 L1346.77 462.4 L1348.28 463.65 L1349.81 464.87 L1351.37 466.06 L1352.94 467.22 L1354.54 468.36 L1356.15 469.46 L1357.78 470.54 L1359.42 471.59 L1361.09 472.62 L1362.77 473.61 L1364.47 474.57 L1366.18 475.51 L1367.91 476.41 L1369.66 477.29 L1371.42 478.13 L1373.19 478.95 L1374.98 479.73 L1376.79 480.48 L1378.6 481.21 L1380.43 481.91 L1382.27 482.58 L1384.13 483.23 L1386 483.85 L1387.88 484.44 L1389.77 485.01 L1391.67 485.55 L1393.58 486.08 L1395.5 486.57 L1397.43 487.05 L1399.37 487.51 L1401.31 487.94 L1403.27 488.36 L1405.23 488.76 L1407.21 489.13 L1409.18 489.49 L1411.17 489.83 L1413.16 490.16 L1415.16 490.47 L1417.16 490.76 L1419.17 491.04 L1421.19 491.31 L1423.2 491.56 L1425.22 491.8 L1427.25 492.02 L1429.28 492.24 L1431.31 492.44 L1433.34 492.64 L1435.38 492.82 L1437.41 493 L1439.45 493.17 L1441.49 493.33 L1443.53 493.48 L1445.57 493.63 L1447.61 493.77 L1449.64 493.91 L1451.68 494.04 L1453.71 494.17 L1455.75 494.3 L1457.78 494.42 L1459.8 494.54 L1461.83 494.66 L1463.85 494.78 L1465.87 494.89 L1467.89 495 L1469.91 495.11 L1471.92 495.22 L1473.94 495.33 L1475.95 495.43 L1477.96 495.54 L1479.96 495.64 L1481.97 495.74 L1483.97 495.83 L1485.97 495.93 L1487.97 496.02 L1489.97 496.11 L1491.97 496.2 L1493.97 496.29 L1495.96 496.37 L1497.95 496.46 L1499.95 496.54 L1501.94 496.62 L1503.93 496.7 L1505.92 496.77 L1507.9 496.85 L1509.89 496.92 L1511.88 497 L1513.86 497.07 L1515.85 497.14 L1517.83 497.2 L1519.81 497.27 L1521.79 497.33 L1523.78 497.4 L1525.76 497.46 L1527.74 497.52 L1529.72 497.58 L1531.7 497.64 L1533.68 497.69 L1535.66 497.75 L1537.64 497.8 L1539.62 497.86 L1541.6 497.91 L1543.58 497.96 L1545.56 498.01 L1547.54 498.06 L1549.52 498.11 L1551.5 498.15 L1553.48 498.2 L1555.46 498.24 L1557.45 498.29 L1559.43 498.33 L1561.41 498.37 L1563.39 498.41 L1565.38 498.45 L1567.36 498.49 L1569.35 498.53 L1571.34 498.56 L1573.33 498.6 L1575.31 498.64 L1577.3 498.67 L1579.3 498.71 L1581.29 498.74 L1583.28 498.77 L1585.28 498.81 L1587.27 498.84 L1589.27 498.87 L1591.27 498.9 L1593.27 498.93 L1595.27 498.96 L1597.27 498.99 L1599.28 499.02 L1601.29 499.05 L1603.3 499.08 L1605.31 499.11 L1607.32 499.13 L1609.33 499.16 L1611.35 499.19 L1613.37 499.22 L1615.39 499.24 L1617.41 499.27 L1619.44 499.3 L1621.47 499.32 L1623.5 499.35 L1625.53 499.38 L1626.07 499.38" stroke="#ff0000" stroke-width="3.9" stroke-linejoin="round"/>
<path d="M934.9 502.4 L936.81 502.42 L938.77 502.44 L940.78 502.44 L942.81 502.42 L944.87 502.37 L946.94 502.28 L949.02 502.14 L951.08 501.95 L953.13 501.69 L955.15 501.37 L957.13 500.96 L959.06 500.47 L960.93 499.88 L962.73 499.18 L964.46 498.38 L966.09 497.45 L967.63 496.4 L969.08 495.23 L970.44 493.95 L971.71 492.57 L972.91 491.09 L974.04 489.53 L975.09 487.9 L976.09 486.19 L977.02 484.43 L977.91 482.61 L978.75 480.75 L979.55 478.86 L980.31 476.95 L981.04 475.01 L981.74 473.07 L982.42 471.13 L983.09 469.2 L983.73 467.26 L984.35 465.32 L984.96 463.38 L985.55 461.44 L986.12 459.51 L986.67 457.57 L987.21 455.63 L987.73 453.7 L988.24 451.76 L988.73 449.82 L989.21 447.88 L989.68 445.94 L990.13 444 L990.57 442.06 L991 440.12 L991.42 438.18 L991.83 436.24 L992.23 434.29 L992.62 432.35 L993 430.4 L993.37 428.45 L993.74 426.5 L994.09 424.55 L994.44 422.6 L994.79 420.64 L995.13 418.68 L995.46 416.72 L995.79 414.76 L996.12 412.79 L996.45 410.82 L996.77 408.85 L997.08 406.88 L997.4 404.91 L997.71 402.93 L998.02 400.95 L998.33 398.98 L998.64 397 L998.94 395.01 L999.25 393.03 L999.55 391.05 L999.86 389.06 L1000.16 387.08 L1000.46 385.09 L1000.76 383.11 L1001.07 381.12 L1001.37 379.14 L1001.67 377.15 L1001.98 375.17 L1002.29 373.18 L1002.6 371.2 L1002.91 369.21 L1003.22 367.23 L1003.53 365.25 L1003.85 363.27 L1004.17 361.29 L1004.5 359.31 L1004.82 357.34 L1005.15 355.36 L1005.49 353.39 L1005.83 351.42 L1006.17 349.45 L1006.52 347.48 L1006.87 345.52 L1007.22 343.55 L1007.59 341.59 L1007.95 339.63 L1008.33 337.67 L1008.7 335.72 L1009.09 333.76 L1009.48 331.81 L1009.87 329.86 L1010.27 327.91 L1010.68 325.96 L1011.1 324.01 L1011.52 322.06 L1011.95 320.12 L1012.39 318.18 L1012.83 316.24 L1013.28 314.3 L1013.74 312.36 L1014.21 310.42 L1014.69 308.49 L1015.17 306.56 L1015.67 304.62 L1016.17 302.69 L1016.68 300.76 L1017.2 298.83 L1017.73 296.91 L1018.27 294.98 L1018.82 293.06 L1019.39 291.14 L1019.98 289.22 L1020.58 287.3 L1021.22 285.39 L1021.87 283.48 L1022.56 281.57 L1023.28 279.67 L1024.04 277.77 L1024.84 275.88 L1025.68 274 L1026.56 272.12 L1027.49 270.24 L1028.47 268.37 L1029.51 266.52 L1030.6 264.69 L1031.74 262.93 L1032.94 261.26 L1034.2 259.7 L1035.52 258.27 L1036.89 257.02 L1038.33 255.96 L1039.82 255.12 L1041.37 254.5 L1042.94 254.09 L1044.53 253.9 L1046.12 253.92 L1047.7 254.15 L1049.24 254.59 L1050.75 255.24 L1052.21 256.08 L1053.64 257.09 L1055.02 258.26 L1056.37 259.58 L1057.69 261.02 L1058.98 262.58 L1060.23 264.23 L1061.46 265.96 L1062.67 267.76 L1063.85 269.6 L1065.01 271.47 L1066.15 273.37 L1067.28 275.26 L1068.39 277.13 L1069.49 278.98 L1070.59 280.8 L1071.67 282.58 L1072.74 284.35 L1073.81 286.09 L1074.87 287.81 L1075.93 289.51 L1076.99 291.19 L1078.04 292.86 L1079.09 294.52 L1080.15 296.16 L1081.21 297.8 L1082.27 299.43 L1083.33 301.06 L1084.41 302.68 L1085.48 304.3 L1086.57 305.93 L1087.67 307.55 L1088.77 309.17 L1089.88 310.79 L1090.99 312.41 L1092.12 314.03 L1093.25 315.65 L1094.39 317.26 L1095.53 318.88 L1096.69 320.49 L1097.85 322.1 L1099.02 323.7 L1100.2 325.31 L1101.38 326.91 L1102.57 328.51 L1103.77 330.1 L1104.98 331.69 L1106.2 333.28 L1107.42 334.86 L1108.65 336.44 L1109.89 338.01 L1111.14 339.58 L1112.39 341.15 L1113.65 342.71 L1114.93 344.27 L1116.2 345.81 L1117.49 347.36 L1118.78 348.9 L1120.09 350.43 L1121.4 351.96 L1122.71 353.48 L1124.04 354.99 L1125.37 356.5 L1126.72 358 L1128.07 359.49 L1129.43 360.97 L1130.79 362.45 L1132.17 363.92 L1133.55 365.38 L1134.94 366.84 L1136.34 368.28 L1137.75 369.72 L1139.16 371.14 L1140.58 372.56 L1142.02 373.97 L1143.46 375.37 L1144.91 376.76 L1146.36 378.14 L1147.83 379.51 L1149.3 380.87 L1150.78 382.22 L1152.27 383.56 L1153.77 384.89 L1155.28 386.21 L1156.79 387.52 L1158.32 388.81 L1159.85 390.09 L1161.39 391.37 L1162.94 392.62 L1164.5 393.87 L1166.06 395.11 L1167.64 396.33 L1169.22 397.54 L1170.81 398.74 L1172.41 399.92 L1174.02 401.1 L1175.64 402.26 L1177.26 403.41 L1178.89 404.55 L1180.53 405.67 L1182.18 406.79 L1183.84 407.89 L1185.5 408.98 L1187.17 410.05 L1188.85 411.12 L1190.54 412.17 L1192.23 413.21 L1193.93 414.24 L1195.64 415.26 L1197.36 416.26 L1199.08 417.26 L1200.81 418.24 L1202.55 419.21 L1204.29 420.17 L1206.04 421.11 L1207.8 422.05 L1209.57 422.97 L1211.34 423.88 L1213.12 424.78 L1214.9 425.66 L1216.7 426.54 L1218.49 427.4 L1220.3 428.25 L1222.11 429.09 L1223.93 429.92 L1225.75 430.74 L1227.58 431.55 L1229.41 432.34 L1231.25 433.13 L1233.1 433.91 L1234.95 434.67 L1236.8 435.43 L1238.66 436.17 L1240.52 436.91 L1242.39 437.64 L1244.26 438.36 L1246.14 439.06 L1248.02 439.76 L1249.9 440.45 L1251.79 441.14 L1253.68 441.81 L1255.57 442.48 L1257.47 443.13 L1259.37 443.78 L1261.27 444.42 L1263.17 445.06 L1265.08 445.68 L1266.99 446.3 L1268.9 446.91 L1270.81 447.52 L1272.72 448.11 L1274.64 448.71 L1276.55 449.29 L1278.47 449.87 L1280.39 450.44 L1282.31 451 L1284.24 451.56 L1286.16 452.11 L1288.08 452.66 L1290.01 453.2 L1291.94 453.73 L1293.87 454.25 L1295.8 454.77 L1297.73 455.29 L1299.67 455.79 L1301.6 456.3 L1303.54 456.79 L1305.48 457.28 L1307.42 457.76 L1309.36 458.24 L1311.3 458.71 L1313.24 459.18 L1315.19 459.64 L1317.13 460.1 L1319.08 460.55 L1321.02 460.99 L1322.97 461.43 L1324.92 461.86 L1326.87 462.29 L1328.83 462.71 L1330.78 463.13 L1332.73 463.54 L1334.69 463.95 L1336.65 464.35 L1338.6 464.75 L1340.56 465.14 L1342.52 465.52 L1344.48 465.91 L1346.44 466.28 L1348.4 466.65 L1350.37 467.02 L1352.33 467.39 L1354.29 467.74 L1356.26 468.1 L1358.23 468.45 L1360.19 468.79 L1362.16 469.13 L1364.13 469.47 L1366.1 469.8 L1368.07 470.13 L1370.04 470.45 L1372.01 470.77 L1373.98 471.08 L1375.96 471.39 L1377.93 471.7 L1379.91 472 L1381.88 472.3 L1383.86 472.6 L1385.83 472.89 L1387.81 473.18 L1389.79 473.46 L1391.76 473.74 L1393.74 474.02 L1395.72 474.29 L1397.7 474.56 L1399.68 474.83 L1401.66 475.09 L1403.64 475.35 L1405.62 475.61 L1407.61 475.86 L1409.59 476.11 L1411.57 476.36 L1413.55 476.6 L1415.54 476.84 L1417.52 477.08 L1419.51 477.31 L1421.49 477.54 L1423.48 477.77 L1425.47 477.99 L1427.45 478.21 L1429.44 478.43 L1431.43 478.65 L1433.41 478.86 L1435.4 479.07 L1437.39 479.28 L1439.38 479.48 L1441.37 479.68 L1443.36 479.88 L1445.35 480.07 L1447.34 480.27 L1449.33 480.46 L1451.32 480.65 L1453.31 480.83 L1455.3 481.01 L1457.3 481.19 L1459.29 481.37 L1461.28 481.55 L1463.27 481.72 L1465.27 481.89 L1467.26 482.06 L1469.25 482.23 L1471.25 482.39 L1473.24 482.55 L1475.24 482.71 L1477.23 482.87 L1479.23 483.02 L1481.22 483.18 L1483.22 483.33 L1485.21 483.48 L1487.21 483.63 L1489.2 483.77 L1491.2 483.91 L1493.2 484.06 L1495.19 484.2 L1497.19 484.33 L1499.19 484.47 L1501.19 484.6 L1503.18 484.74 L1505.18 484.87 L1507.18 485 L1509.18 485.13 L1511.17 485.25 L1513.17 485.38 L1515.17 485.5 L1517.17 485.62 L1519.17 485.74 L1521.16 485.86 L1523.16 485.98 L1525.16 486.1 L1527.16 486.21 L1529.16 486.33 L1531.16 486.44 L1533.16 486.55 L1535.15 486.66 L1537.15 486.77 L1539.15 486.88 L1541.15 486.99 L1543.15 487.09 L1545.15 487.2 L1547.15 487.3 L1549.15 487.41 L1551.15 487.51 L1553.15 487.61 L1555.14 487.71 L1557.14 487.82 L1559.14 487.91 L1561.14 488.01 L1563.14 488.11 L1565.14 488.21 L1567.14 488.31 L1569.13 488.4 L1571.13 488.5 L1573.13 488.6 L1575.13 488.69 L1577.13 488.79 L1579.13 488.88 L1581.12 488.98 L1583.12 489.07 L1585.12 489.16 L1587.12 489.26 L1589.11 489.35 L1591.11 489.44 L1593.11 489.54 L1595.1 489.63 L1597.1 489.72 L1599.1 489.82 L1601.09 489.91 L1603.09 490 L1605.08 490.1 L1607.08 490.19 L1609.08 490.28 L1611.07 490.38 L1613.07 490.47 L1615.06 490.56 L1617.06 490.66 L1619.05 490.75 L1621.04 490.85 L1623.04 490.94 L1625.03 491.04 L1626.07 491.09" stroke="#0000ff" stroke-width="3.9" stroke-linejoin="round"/>
</g>
<path d="M934.9 483.92h5.3M1626 483.92h-5.3M934.9 464.5h5.3M1626 464.5h-5.3M934.9 445.07h5.3M1626 445.07h-5.3M934.9 425.65h5.3M1626 425.65h-5.3M934.9 406.22h9.8M1626 406.22h-9.8M934.9 386.79h5.3M1626 386.79h-5.3M934.9 367.37h5.3M1626 367.37h-5.3M934.9 347.94h5.3M1626 347.94h-5.3M934.9 328.52h5.3M1626 328.52h-5.3M934.9 309.09h9.8M1626 309.09h-9.8M934.9 289.66h5.3M1626 289.66h-5.3M934.9 270.24h5.3M1626 270.24h-5.3M934.9 250.81h5.3M1626 250.81h-5.3M934.9 231.39h5.3M1626 231.39h-5.3M934.9 211.96h9.8M1626 211.96h-9.8M934.9 192.53h5.3M1626 192.53h-5.3M934.9 173.11h5.3M1626 173.11h-5.3M934.9 153.68h5.3M1626 153.68h-5.3M934.9 134.26h5.3M1626 134.26h-5.3M934.9 114.83h9.8M1626 114.83h-9.8M934.9 95.4h5.3M1626 95.4h-5.3M934.9 75.98h5.3M1626 75.98h-5.3M934.9 56.55h5.3M1626 56.55h-5.3M934.9 37.13h5.3M1626 37.13h-5.3M980.97 17.7v5.3M980.97 503.35v-5.3M1027.05 17.7v5.3M1027.05 503.35v-5.3M1073.12 17.7v9.8M1073.12 503.35v-9.8M1119.19 17.7v5.3M1119.19 503.35v-5.3M1165.27 17.7v5.3M1165.27 503.35v-5.3M1211.34 17.7v9.8M1211.34 503.35v-9.8M1257.41 17.7v5.3M1257.41 503.35v-5.3M1303.49 17.7v5.3M1303.49 503.35v-5.3M1349.56 17.7v9.8M1349.56 503.35v-9.8M1395.63 17.7v5.3M1395.63 503.35v-5.3M1441.71 17.7v5.3M1441.71 503.35v-5.3M1487.78 17.7v9.8M1487.78 503.35v-9.8M1533.85 17.7v5.3M1533.85 503.35v-5.3M1579.93 17.7v5.3M1579.93 503.35v-5.3" stroke="#000" stroke-width="2.15" stroke-linecap="round" fill="none"/>
<rect x="934.9" y="17.7" width="691.1" height="485.65" fill="none" stroke="#000" stroke-width="2.5" stroke-linejoin="round"/>
<path d="M1037 179.5L1037 218" stroke="#0000ff" stroke-width="2.3" fill="none"/>
<path d="M1037 231.5L1031.4 217L1037 218.5L1042.6 217z" fill="#0000ff"/>
<path d="M1376.9 332.3L1319.1 332.3" stroke="#ff0000" stroke-width="2.3" fill="none"/>
<path d="M1305.6 332.3L1320.1 326.7L1318.6 332.3L1320.1 337.9z" fill="#ff0000"/>
<text x="1268.56" y="107.80" font-size="48.2" textLength="339.61" lengthAdjust="spacing">Irrational triangle</text>
<text x="1269.36" y="174.50" font-size="48.2" textLength="300.98" lengthAdjust="spacing">8.0 – 10.0 GHz</text>
<text transform="translate(971.81,167.90) scale(1.1698,1)" font-size="45.3" class="i" style="fill:#0000ff">η</text>
<text transform="translate(1003.91,167.90) scale(1.1053,1)" font-size="45.3" style="fill:#0000ff">=</text>
<text transform="translate(1040.50,167.90) scale(0.9600,1)" font-size="46.4" style="fill:#0000ff">0.72</text>
<text transform="translate(1396.31,344.70) scale(1.1698,1)" font-size="45.3" class="i" style="fill:#ff0000">η</text>
<text transform="translate(1428.41,344.70) scale(1.1053,1)" font-size="45.3" style="fill:#ff0000">=</text>
<text transform="translate(1465.02,344.70) scale(0.9519,1)" font-size="46.4" style="fill:#ff0000">0.29</text></g>
<g><g clip-path="url(#c2)" fill="none">
<g stroke="#0000ff" stroke-width="3.15"><circle cx="150.48" cy="1057.65" r="9.25"/><circle cx="161.53" cy="1057.65" r="9.25"/><circle cx="172.59" cy="1057.44" r="9.25"/><circle cx="183.65" cy="1056.78" r="9.25"/><circle cx="194.7" cy="1049.8" r="9.25"/><circle cx="205.76" cy="989.36" r="9.25"/><circle cx="216.81" cy="908.64" r="9.25"/><circle cx="227.87" cy="894.45" r="9.25"/><circle cx="238.93" cy="867.84" r="9.25"/><circle cx="249.98" cy="855.18" r="9.25"/><circle cx="261.04" cy="826.38" r="9.25"/><circle cx="272.09" cy="820.71" r="9.25"/><circle cx="283.15" cy="836.64" r="9.25"/><circle cx="294.21" cy="836.2" r="9.25"/><circle cx="305.26" cy="814.82" r="9.25"/><circle cx="316.32" cy="823.55" r="9.25"/><circle cx="327.37" cy="854.75" r="9.25"/><circle cx="338.43" cy="880.93" r="9.25"/><circle cx="349.49" cy="905.36" r="9.25"/><circle cx="360.54" cy="917.36" r="9.25"/><circle cx="371.6" cy="933.73" r="9.25"/><circle cx="382.65" cy="946.82" r="9.25"/><circle cx="393.71" cy="957.73" r="9.25"/><circle cx="404.77" cy="964.27" r="9.25"/><circle cx="415.82" cy="970.82" r="9.25"/><circle cx="426.88" cy="976.27" r="9.25"/><circle cx="437.93" cy="985" r="9.25"/><circle cx="448.99" cy="986.53" r="9.25"/><circle cx="460.05" cy="997" r="9.25"/><circle cx="471.1" cy="995.91" r="9.25"/><circle cx="482.16" cy="1001.36" r="9.25"/><circle cx="493.21" cy="1004.64" r="9.25"/><circle cx="504.27" cy="1009.81" r="9.25"/><circle cx="515.33" cy="1013.12" r="9.25"/><circle cx="526.38" cy="1016.21" r="9.25"/><circle cx="537.44" cy="1019.06" r="9.25"/><circle cx="548.49" cy="1021.7" r="9.25"/><circle cx="559.55" cy="1024.14" r="9.25"/><circle cx="570.61" cy="1026.39" r="9.25"/><circle cx="581.66" cy="1028.45" r="9.25"/><circle cx="592.72" cy="1030.34" r="9.25"/><circle cx="603.77" cy="1032.06" r="9.25"/><circle cx="614.83" cy="1033.63" r="9.25"/><circle cx="625.89" cy="1035.05" r="9.25"/><circle cx="636.94" cy="1036.34" r="9.25"/><circle cx="648" cy="1037.5" r="9.25"/><circle cx="659.05" cy="1038.55" r="9.25"/><circle cx="670.11" cy="1039.5" r="9.25"/><circle cx="681.17" cy="1040.35" r="9.25"/><circle cx="692.22" cy="1041.11" r="9.25"/><circle cx="703.28" cy="1041.8" r="9.25"/><circle cx="714.33" cy="1042.42" r="9.25"/><circle cx="725.39" cy="1042.98" r="9.25"/><circle cx="736.45" cy="1043.49" r="9.25"/><circle cx="747.5" cy="1043.96" r="9.25"/><circle cx="758.56" cy="1044.41" r="9.25"/><circle cx="769.61" cy="1044.83" r="9.25"/><circle cx="780.67" cy="1045.23" r="9.25"/><circle cx="791.73" cy="1045.64" r="9.25"/><circle cx="802.78" cy="1046.05" r="9.25"/><circle cx="813.84" cy="1046.47" r="9.25"/><circle cx="824.89" cy="1046.92" r="9.25"/><circle cx="835.95" cy="1047.39" r="9.25"/></g>
<path d="M142.58 1050.59h15.8v15.8h-15.8zM153.63 1050.74h15.8v15.8h-15.8zM164.69 1050.64h15.8v15.8h-15.8zM175.75 1050.41h15.8v15.8h-15.8zM186.8 1050.13h15.8v15.8h-15.8zM197.86 1049.9h15.8v15.8h-15.8zM208.91 1049.83h15.8v15.8h-15.8zM219.97 1049.99h15.8v15.8h-15.8zM231.03 1050.25h15.8v15.8h-15.8zM242.08 1050.43h15.8v15.8h-15.8zM253.14 1050.34h15.8v15.8h-15.8zM264.19 1049.79h15.8v15.8h-15.8zM275.25 1044.74h15.8v15.8h-15.8zM286.31 1043.65h15.8v15.8h-15.8zM297.36 1041.46h15.8v15.8h-15.8zM308.42 1034.92h15.8v15.8h-15.8zM319.47 1032.74h15.8v15.8h-15.8zM330.53 1012.01h15.8v15.8h-15.8zM341.59 978.63h15.8v15.8h-15.8zM352.64 929.1h15.8v15.8h-15.8zM363.7 877.39h15.8v15.8h-15.8zM374.75 804.83h15.8v15.8h-15.8zM385.81 767.3h15.8v15.8h-15.8zM396.87 704.46h15.8v15.8h-15.8zM407.92 669.12h15.8v15.8h-15.8zM418.98 672.83h15.8v15.8h-15.8zM430.03 660.39h15.8v15.8h-15.8zM441.09 707.74h15.8v15.8h-15.8zM452.15 732.17h15.8v15.8h-15.8zM463.2 778.65h15.8v15.8h-15.8zM474.26 803.3h15.8v15.8h-15.8zM485.31 822.28h15.8v15.8h-15.8zM496.37 864.74h15.8v15.8h-15.8zM507.43 897.46h15.8v15.8h-15.8zM518.48 920.81h15.8v15.8h-15.8zM529.54 942.85h15.8v15.8h-15.8zM540.59 961.83h15.8v15.8h-15.8zM551.65 980.37h15.8v15.8h-15.8zM562.71 997.83h15.8v15.8h-15.8zM573.76 1006.55h15.8v15.8h-15.8zM584.82 1015.28h15.8v15.8h-15.8zM595.87 1025.1h15.8v15.8h-15.8zM606.93 1031.65h15.8v15.8h-15.8zM617.99 1034.92h15.8v15.8h-15.8zM629.04 1039.28h15.8v15.8h-15.8zM640.1 1041.9h15.8v15.8h-15.8zM651.15 1043.65h15.8v15.8h-15.8zM662.21 1045.39h15.8v15.8h-15.8zM673.27 1045.11h15.8v15.8h-15.8zM684.32 1046.04h15.8v15.8h-15.8zM695.38 1046.75h15.8v15.8h-15.8zM706.43 1047.26h15.8v15.8h-15.8zM717.49 1047.61h15.8v15.8h-15.8zM728.55 1047.82h15.8v15.8h-15.8zM739.6 1047.92h15.8v15.8h-15.8zM750.66 1047.94h15.8v15.8h-15.8zM761.71 1047.9h15.8v15.8h-15.8zM772.77 1047.83h15.8v15.8h-15.8zM783.83 1047.77h15.8v15.8h-15.8zM794.88 1047.73h15.8v15.8h-15.8zM805.94 1047.76h15.8v15.8h-15.8zM816.99 1047.87h15.8v15.8h-15.8zM828.05 1048.1h15.8v15.8h-15.8z" stroke="#ff0000" stroke-width="3.15" stroke-linejoin="round"/>
<path d="M144.9 1058.3 L146.92 1058.38 L148.93 1058.45 L150.95 1058.51 L152.96 1058.55 L154.96 1058.59 L156.97 1058.61 L158.97 1058.63 L160.98 1058.64 L162.98 1058.64 L164.98 1058.63 L166.98 1058.62 L168.97 1058.6 L170.97 1058.57 L172.96 1058.54 L174.96 1058.5 L176.95 1058.46 L178.94 1058.42 L180.93 1058.37 L182.92 1058.33 L184.91 1058.28 L186.9 1058.23 L188.89 1058.17 L190.88 1058.12 L192.87 1058.07 L194.86 1058.02 L196.85 1057.98 L198.84 1057.93 L200.83 1057.89 L202.83 1057.85 L204.82 1057.82 L206.81 1057.79 L208.81 1057.76 L210.8 1057.75 L212.8 1057.73 L214.8 1057.73 L216.8 1057.73 L218.8 1057.74 L220.8 1057.76 L222.81 1057.79 L224.81 1057.82 L226.82 1057.86 L228.83 1057.91 L230.84 1057.95 L232.85 1058 L234.86 1058.05 L236.87 1058.1 L238.88 1058.15 L240.89 1058.19 L242.91 1058.23 L244.92 1058.27 L246.93 1058.3 L248.94 1058.32 L250.95 1058.34 L252.96 1058.34 L254.97 1058.34 L256.98 1058.32 L258.99 1058.29 L261 1058.25 L263 1058.19 L265 1058.11 L267.01 1058.02 L269.01 1057.91 L271 1057.77 L273 1057.62 L274.99 1057.45 L276.99 1057.25 L278.98 1057.03 L280.96 1056.78 L282.95 1056.51 L284.93 1056.2 L286.9 1055.87 L288.88 1055.51 L290.85 1055.12 L292.82 1054.7 L294.78 1054.24 L296.74 1053.75 L298.68 1053.22 L300.62 1052.65 L302.53 1052.04 L304.43 1051.39 L306.31 1050.7 L308.17 1049.97 L309.99 1049.18 L311.79 1048.36 L313.55 1047.48 L315.28 1046.55 L316.96 1045.57 L318.61 1044.53 L320.2 1043.44 L321.75 1042.29 L323.25 1041.08 L324.69 1039.82 L326.08 1038.49 L327.41 1037.1 L328.68 1035.64 L329.89 1034.14 L331.05 1032.58 L332.16 1030.97 L333.22 1029.31 L334.24 1027.61 L335.21 1025.88 L336.15 1024.1 L337.04 1022.3 L337.9 1020.47 L338.73 1018.61 L339.52 1016.73 L340.29 1014.84 L341.04 1012.93 L341.76 1011.01 L342.46 1009.08 L343.14 1007.15 L343.8 1005.22 L344.45 1003.28 L345.09 1001.35 L345.71 999.42 L346.32 997.48 L346.92 995.55 L347.5 993.62 L348.07 991.68 L348.62 989.75 L349.17 987.81 L349.7 985.87 L350.22 983.94 L350.73 982 L351.24 980.06 L351.73 978.13 L352.21 976.19 L352.68 974.25 L353.14 972.31 L353.6 970.37 L354.05 968.43 L354.49 966.48 L354.92 964.54 L355.34 962.6 L355.76 960.65 L356.18 958.71 L356.58 956.76 L356.99 954.82 L357.38 952.87 L357.78 950.92 L358.16 948.97 L358.55 947.02 L358.93 945.07 L359.31 943.12 L359.69 941.17 L360.06 939.21 L360.43 937.26 L360.81 935.3 L361.18 933.34 L361.55 931.38 L361.91 929.42 L362.28 927.46 L362.65 925.5 L363.02 923.54 L363.38 921.57 L363.75 919.61 L364.11 917.64 L364.48 915.68 L364.84 913.71 L365.2 911.74 L365.57 909.78 L365.93 907.81 L366.29 905.84 L366.65 903.87 L367.02 901.9 L367.38 899.93 L367.74 897.95 L368.1 895.98 L368.46 894.01 L368.82 892.04 L369.19 890.06 L369.55 888.09 L369.91 886.12 L370.27 884.14 L370.64 882.17 L371 880.2 L371.36 878.22 L371.73 876.25 L372.09 874.27 L372.46 872.3 L372.82 870.33 L373.19 868.35 L373.56 866.38 L373.92 864.41 L374.29 862.43 L374.66 860.46 L375.03 858.49 L375.4 856.52 L375.77 854.54 L376.15 852.57 L376.52 850.6 L376.9 848.63 L377.27 846.66 L377.65 844.69 L378.03 842.72 L378.41 840.76 L378.79 838.79 L379.17 836.82 L379.56 834.86 L379.94 832.89 L380.33 830.93 L380.72 828.96 L381.11 827 L381.5 825.04 L381.89 823.08 L382.29 821.12 L382.68 819.16 L383.08 817.2 L383.48 815.25 L383.89 813.29 L384.29 811.34 L384.7 809.39 L385.11 807.44 L385.52 805.49 L385.93 803.54 L386.35 801.59 L386.76 799.64 L387.18 797.7 L387.61 795.76 L388.03 793.82 L388.46 791.88 L388.89 789.94 L389.32 788 L389.75 786.07 L390.19 784.13 L390.63 782.2 L391.07 780.27 L391.51 778.34 L391.95 776.41 L392.39 774.48 L392.83 772.55 L393.27 770.61 L393.72 768.68 L394.16 766.75 L394.6 764.81 L395.03 762.88 L395.47 760.94 L395.91 759 L396.34 757.06 L396.77 755.11 L397.2 753.17 L397.62 751.22 L398.04 749.26 L398.46 747.31 L398.87 745.35 L399.28 743.39 L399.69 741.42 L400.09 739.45 L400.48 737.47 L400.87 735.49 L401.25 733.5 L401.63 731.51 L402 729.52 L402.37 727.51 L402.73 725.51 L403.08 723.49 L403.42 721.47 L403.76 719.44 L404.08 717.41 L404.4 715.37 L404.72 713.32 L405.03 711.27 L405.34 709.23 L405.66 707.18 L405.99 705.14 L406.33 703.11 L406.68 701.09 L407.05 699.08 L407.45 697.09 L407.86 695.11 L408.31 693.16 L408.78 691.23 L409.29 689.32 L409.84 687.44 L410.43 685.6 L411.06 683.78 L411.75 682 L412.48 680.26 L413.27 678.57 L414.12 676.93 L415.04 675.36 L416.03 673.86 L417.11 672.45 L418.27 671.13 L419.52 669.91 L420.87 668.8 L422.32 667.82 L423.89 666.96 L425.56 666.25 L427.36 665.68 L429.29 665.27 L431.35 665.02 L433.55 664.95 L435.89 665.07 L436.2 665.1 L436.73 667.02 L437.27 668.93 L437.8 670.85 L438.33 672.77 L438.86 674.69 L439.4 676.61 L439.93 678.53 L440.46 680.45 L440.99 682.38 L441.53 684.3 L442.06 686.22 L442.59 688.15 L443.12 690.07 L443.66 691.99 L444.19 693.92 L444.73 695.84 L445.26 697.77 L445.8 699.7 L446.34 701.62 L446.87 703.55 L447.41 705.47 L447.95 707.4 L448.49 709.33 L449.03 711.25 L449.57 713.18 L450.12 715.11 L450.66 717.03 L451.21 718.96 L451.76 720.89 L452.31 722.81 L452.86 724.74 L453.41 726.66 L453.96 728.59 L454.52 730.51 L455.07 732.44 L455.63 734.36 L456.19 736.29 L456.76 738.21 L457.32 740.13 L457.89 742.05 L458.46 743.97 L459.03 745.89 L459.6 747.81 L460.18 749.73 L460.75 751.65 L461.33 753.57 L461.92 755.49 L462.5 757.4 L463.09 759.32 L463.68 761.23 L464.27 763.14 L464.87 765.06 L465.47 766.97 L466.07 768.88 L466.68 770.78 L467.28 772.69 L467.9 774.6 L468.51 776.5 L469.13 778.41 L469.75 780.31 L470.37 782.21 L471 784.11 L471.63 786.01 L472.27 787.9 L472.91 789.8 L473.55 791.69 L474.2 793.58 L474.85 795.47 L475.5 797.36 L476.16 799.25 L476.82 801.13 L477.49 803.02 L478.16 804.9 L478.83 806.78 L479.51 808.65 L480.19 810.53 L480.88 812.4 L481.57 814.28 L482.27 816.15 L482.97 818.01 L483.67 819.88 L484.38 821.74 L485.1 823.6 L485.82 825.46 L486.54 827.32 L487.27 829.17 L488 831.02 L488.74 832.88 L489.48 834.73 L490.22 836.57 L490.97 838.42 L491.71 840.27 L492.47 842.11 L493.22 843.96 L493.97 845.8 L494.73 847.64 L495.49 849.48 L496.25 851.32 L497.02 853.16 L497.78 855 L498.55 856.84 L499.31 858.68 L500.08 860.52 L500.84 862.36 L501.61 864.2 L502.38 866.05 L503.14 867.89 L503.91 869.73 L504.67 871.57 L505.44 873.41 L506.2 875.26 L506.96 877.1 L507.72 878.95 L508.48 880.8 L509.24 882.65 L509.99 884.5 L510.74 886.35 L511.49 888.2 L512.24 890.06 L512.98 891.91 L513.72 893.77 L514.46 895.64 L515.19 897.5 L515.92 899.36 L516.64 901.23 L517.36 903.1 L518.08 904.97 L518.8 906.85 L519.52 908.72 L520.23 910.6 L520.95 912.47 L521.66 914.35 L522.38 916.23 L523.09 918.11 L523.81 919.98 L524.53 921.86 L525.25 923.74 L525.98 925.61 L526.7 927.49 L527.43 929.36 L528.17 931.23 L528.91 933.1 L529.65 934.97 L530.4 936.83 L531.16 938.7 L531.92 940.56 L532.69 942.42 L533.47 944.27 L534.25 946.12 L535.05 947.97 L535.85 949.81 L536.66 951.65 L537.48 953.49 L538.32 955.32 L539.16 957.15 L540.01 958.97 L540.88 960.79 L541.76 962.6 L542.65 964.4 L543.55 966.2 L544.47 968 L545.4 969.79 L546.35 971.57 L547.31 973.34 L548.29 975.11 L549.28 976.87 L550.29 978.62 L551.31 980.36 L552.35 982.1 L553.4 983.82 L554.47 985.53 L555.56 987.23 L556.66 988.92 L557.78 990.59 L558.91 992.25 L560.06 993.9 L561.23 995.54 L562.41 997.15 L563.61 998.76 L564.83 1000.34 L566.06 1001.91 L567.31 1003.47 L568.58 1005 L569.87 1006.52 L571.17 1008.02 L572.49 1009.49 L573.83 1010.95 L575.18 1012.39 L576.55 1013.8 L577.94 1015.2 L579.35 1016.57 L580.78 1017.91 L582.22 1019.24 L583.68 1020.53 L585.16 1021.81 L586.66 1023.06 L588.18 1024.28 L589.72 1025.47 L591.27 1026.64 L592.85 1027.78 L594.44 1028.89 L596.05 1029.97 L597.68 1031.02 L599.34 1032.05 L601.01 1033.04 L602.69 1034 L604.4 1034.93 L606.13 1035.83 L607.87 1036.7 L609.63 1037.55 L611.4 1038.36 L613.19 1039.15 L615 1039.92 L616.82 1040.65 L618.66 1041.36 L620.51 1042.05 L622.37 1042.71 L624.24 1043.35 L626.13 1043.97 L628.03 1044.56 L629.94 1045.13 L631.86 1045.68 L633.79 1046.21 L635.73 1046.72 L637.68 1047.21 L639.63 1047.68 L641.6 1048.13 L643.57 1048.56 L645.55 1048.98 L647.54 1049.37 L649.53 1049.76 L651.52 1050.12 L653.53 1050.47 L655.53 1050.81 L657.54 1051.13 L659.56 1051.43 L661.57 1051.73 L663.59 1052.01 L665.61 1052.28 L667.63 1052.54 L669.65 1052.79 L671.68 1053.02 L673.7 1053.25 L675.72 1053.47 L677.74 1053.68 L679.76 1053.88 L681.77 1054.07 L683.79 1054.25 L685.8 1054.43 L687.82 1054.6 L689.83 1054.76 L691.84 1054.91 L693.85 1055.06 L695.86 1055.2 L697.86 1055.33 L699.87 1055.45 L701.87 1055.57 L703.88 1055.68 L705.88 1055.79 L707.89 1055.89 L709.89 1055.98 L711.89 1056.07 L713.89 1056.15 L715.89 1056.22 L717.89 1056.29 L719.88 1056.36 L721.88 1056.42 L723.88 1056.47 L725.87 1056.53 L727.87 1056.57 L729.86 1056.61 L731.86 1056.65 L733.85 1056.68 L735.84 1056.71 L737.84 1056.74 L739.83 1056.76 L741.82 1056.78 L743.81 1056.8 L745.81 1056.81 L747.8 1056.82 L749.79 1056.83 L751.78 1056.84 L753.77 1056.84 L755.76 1056.84 L757.75 1056.84 L759.74 1056.83 L761.73 1056.83 L763.72 1056.82 L765.71 1056.82 L767.7 1056.81 L769.7 1056.8 L771.69 1056.79 L773.68 1056.77 L775.67 1056.76 L777.66 1056.75 L779.65 1056.74 L781.64 1056.72 L783.64 1056.71 L785.63 1056.7 L787.62 1056.69 L789.62 1056.68 L791.61 1056.67 L793.6 1056.66 L795.6 1056.65 L797.6 1056.64 L799.59 1056.64 L801.59 1056.63 L803.59 1056.63 L805.59 1056.63 L807.58 1056.64 L809.58 1056.64 L811.58 1056.65 L813.59 1056.66 L815.59 1056.67 L817.59 1056.69 L819.6 1056.71 L821.6 1056.73 L823.61 1056.75 L825.61 1056.78 L827.62 1056.82 L829.63 1056.85 L831.64 1056.89 L833.65 1056.94 L835.67 1056.99 L836.07 1057" stroke="#ff0000" stroke-width="3.9" stroke-linejoin="round"/>
<path d="M144.9 1058.2 L146.87 1058.46 L148.88 1058.71 L150.94 1058.94 L153.04 1059.15 L155.15 1059.33 L157.28 1059.46 L159.41 1059.55 L161.53 1059.57 L163.63 1059.53 L165.71 1059.4 L167.75 1059.2 L169.74 1058.89 L171.67 1058.49 L173.53 1057.97 L175.31 1057.33 L177.01 1056.57 L178.62 1055.68 L180.15 1054.68 L181.61 1053.57 L182.99 1052.37 L184.3 1051.07 L185.54 1049.69 L186.71 1048.23 L187.83 1046.71 L188.89 1045.12 L189.9 1043.47 L190.86 1041.79 L191.77 1040.06 L192.64 1038.3 L193.47 1036.51 L194.27 1034.71 L195.03 1032.9 L195.76 1031.07 L196.46 1029.22 L197.13 1027.36 L197.77 1025.49 L198.38 1023.6 L198.97 1021.7 L199.53 1019.79 L200.07 1017.88 L200.59 1015.95 L201.09 1014.01 L201.57 1012.06 L202.03 1010.11 L202.48 1008.15 L202.91 1006.18 L203.33 1004.2 L203.73 1002.22 L204.13 1000.24 L204.51 998.25 L204.89 996.26 L205.26 994.27 L205.63 992.27 L205.99 990.27 L206.35 988.28 L206.71 986.28 L207.06 984.28 L207.42 982.29 L207.79 980.29 L208.15 978.3 L208.53 976.32 L208.91 974.33 L209.29 972.35 L209.68 970.37 L210.07 968.4 L210.48 966.43 L210.88 964.46 L211.29 962.49 L211.71 960.53 L212.14 958.57 L212.57 956.62 L213 954.66 L213.44 952.71 L213.89 950.76 L214.34 948.82 L214.8 946.87 L215.26 944.93 L215.73 942.99 L216.2 941.06 L216.68 939.12 L217.17 937.19 L217.66 935.26 L218.15 933.34 L218.65 931.41 L219.16 929.49 L219.67 927.57 L220.19 925.65 L220.72 923.73 L221.25 921.81 L221.78 919.9 L222.32 917.99 L222.87 916.08 L223.42 914.17 L223.98 912.26 L224.54 910.36 L225.11 908.45 L225.68 906.55 L226.26 904.65 L226.85 902.75 L227.44 900.85 L228.03 898.95 L228.63 897.06 L229.24 895.16 L229.85 893.27 L230.47 891.38 L231.09 889.48 L231.72 887.59 L232.35 885.7 L232.99 883.81 L233.64 881.92 L234.29 880.03 L234.94 878.15 L235.6 876.26 L236.27 874.37 L236.94 872.49 L237.62 870.6 L238.3 868.72 L238.99 866.83 L239.68 864.94 L240.38 863.06 L241.09 861.18 L241.8 859.29 L242.52 857.41 L243.26 855.53 L244 853.66 L244.77 851.79 L245.55 849.93 L246.35 848.08 L247.18 846.24 L248.03 844.4 L248.91 842.58 L249.82 840.77 L250.75 838.97 L251.73 837.19 L252.74 835.43 L253.78 833.68 L254.87 831.95 L256 830.26 L257.17 828.61 L258.38 827 L259.64 825.44 L260.95 823.95 L262.3 822.52 L263.71 821.17 L265.17 819.9 L266.68 818.72 L268.25 817.63 L269.88 816.65 L271.56 815.78 L273.3 815.03 L275.1 814.4 L276.96 813.9 L278.86 813.52 L280.8 813.26 L282.76 813.11 L284.75 813.08 L286.75 813.16 L288.75 813.35 L290.74 813.65 L292.73 814.06 L294.69 814.57 L296.62 815.18 L298.51 815.89 L300.36 816.7 L302.15 817.6 L303.88 818.6 L305.55 819.68 L307.16 820.84 L308.71 822.09 L310.2 823.4 L311.64 824.78 L313.02 826.23 L314.35 827.73 L315.63 829.28 L316.86 830.88 L318.05 832.52 L319.18 834.2 L320.27 835.91 L321.32 837.64 L322.33 839.4 L323.29 841.17 L324.22 842.96 L325.11 844.76 L325.97 846.58 L326.79 848.4 L327.59 850.24 L328.36 852.09 L329.11 853.95 L329.84 855.81 L330.54 857.68 L331.23 859.56 L331.9 861.45 L332.56 863.34 L333.21 865.23 L333.86 867.13 L334.49 869.02 L335.13 870.92 L335.76 872.82 L336.39 874.72 L337.03 876.61 L337.67 878.5 L338.33 880.39 L338.99 882.27 L339.66 884.15 L340.35 886.01 L341.06 887.88 L341.79 889.73 L342.54 891.57 L343.31 893.4 L344.11 895.22 L344.94 897.03 L345.8 898.83 L346.68 900.61 L347.6 902.38 L348.54 904.13 L349.5 905.87 L350.49 907.6 L351.51 909.32 L352.55 911.02 L353.62 912.71 L354.71 914.39 L355.82 916.05 L356.96 917.69 L358.12 919.33 L359.3 920.94 L360.5 922.55 L361.72 924.14 L362.96 925.71 L364.22 927.27 L365.5 928.82 L366.79 930.35 L368.11 931.86 L369.44 933.36 L370.79 934.85 L372.16 936.32 L373.54 937.77 L374.93 939.21 L376.34 940.63 L377.77 942.03 L379.2 943.42 L380.65 944.8 L382.12 946.16 L383.59 947.5 L385.08 948.82 L386.58 950.14 L388.09 951.43 L389.62 952.71 L391.15 953.98 L392.7 955.23 L394.26 956.46 L395.83 957.68 L397.41 958.89 L399 960.08 L400.6 961.26 L402.21 962.42 L403.84 963.57 L405.47 964.7 L407.11 965.82 L408.76 966.93 L410.42 968.03 L412.09 969.11 L413.77 970.18 L415.46 971.23 L417.16 972.27 L418.86 973.31 L420.58 974.32 L422.3 975.33 L424.03 976.32 L425.77 977.3 L427.51 978.27 L429.26 979.23 L431.02 980.17 L432.79 981.11 L434.57 982.03 L436.35 982.94 L438.13 983.84 L439.93 984.73 L441.73 985.61 L443.53 986.48 L445.34 987.34 L447.16 988.19 L448.98 989.02 L450.81 989.85 L452.64 990.67 L454.48 991.48 L456.32 992.28 L458.17 993.07 L460.02 993.84 L461.88 994.62 L463.73 995.38 L465.6 996.13 L467.46 996.87 L469.33 997.61 L471.21 998.34 L473.08 999.06 L474.96 999.77 L476.84 1000.47 L478.73 1001.17 L480.61 1001.85 L482.5 1002.53 L484.39 1003.21 L486.29 1003.87 L488.18 1004.53 L490.08 1005.18 L491.97 1005.82 L493.87 1006.46 L495.78 1007.09 L497.68 1007.71 L499.58 1008.33 L501.49 1008.93 L503.4 1009.54 L505.31 1010.13 L507.22 1010.72 L509.14 1011.3 L511.05 1011.87 L512.97 1012.44 L514.89 1013 L516.81 1013.55 L518.73 1014.1 L520.66 1014.64 L522.58 1015.17 L524.51 1015.7 L526.44 1016.22 L528.37 1016.74 L530.3 1017.24 L532.23 1017.74 L534.17 1018.24 L536.1 1018.73 L538.04 1019.21 L539.98 1019.69 L541.92 1020.16 L543.86 1020.62 L545.8 1021.08 L547.75 1021.53 L549.69 1021.98 L551.64 1022.42 L553.59 1022.85 L555.54 1023.28 L557.49 1023.7 L559.44 1024.12 L561.39 1024.53 L563.35 1024.94 L565.3 1025.33 L567.26 1025.73 L569.21 1026.12 L571.17 1026.5 L573.13 1026.88 L575.09 1027.25 L577.05 1027.61 L579.02 1027.97 L580.98 1028.33 L582.95 1028.68 L584.91 1029.02 L586.88 1029.36 L588.85 1029.7 L590.82 1030.03 L592.78 1030.35 L594.75 1030.67 L596.73 1030.98 L598.7 1031.29 L600.67 1031.59 L602.64 1031.89 L604.62 1032.19 L606.59 1032.48 L608.57 1032.76 L610.55 1033.04 L612.53 1033.32 L614.5 1033.59 L616.48 1033.85 L618.46 1034.11 L620.44 1034.37 L622.42 1034.62 L624.41 1034.87 L626.39 1035.11 L628.37 1035.35 L630.36 1035.59 L632.34 1035.82 L634.33 1036.05 L636.31 1036.27 L638.3 1036.49 L640.28 1036.71 L642.27 1036.92 L644.26 1037.12 L646.25 1037.33 L648.24 1037.53 L650.23 1037.72 L652.22 1037.92 L654.21 1038.11 L656.2 1038.29 L658.19 1038.48 L660.18 1038.65 L662.18 1038.83 L664.17 1039 L666.16 1039.17 L668.16 1039.34 L670.15 1039.5 L672.15 1039.66 L674.14 1039.82 L676.14 1039.97 L678.13 1040.12 L680.13 1040.27 L682.13 1040.42 L684.12 1040.56 L686.12 1040.7 L688.12 1040.84 L690.12 1040.97 L692.12 1041.1 L694.11 1041.23 L696.11 1041.36 L698.11 1041.49 L700.11 1041.61 L702.11 1041.73 L704.11 1041.85 L706.11 1041.96 L708.11 1042.08 L710.11 1042.19 L712.11 1042.3 L714.11 1042.41 L716.12 1042.51 L718.12 1042.62 L720.12 1042.72 L722.12 1042.82 L724.12 1042.92 L726.12 1043.01 L728.12 1043.11 L730.13 1043.2 L732.13 1043.3 L734.13 1043.39 L736.13 1043.48 L738.13 1043.57 L740.14 1043.65 L742.14 1043.74 L744.14 1043.82 L746.14 1043.91 L748.14 1043.99 L750.15 1044.07 L752.15 1044.15 L754.15 1044.23 L756.15 1044.31 L758.15 1044.39 L760.16 1044.47 L762.16 1044.55 L764.16 1044.62 L766.16 1044.7 L768.16 1044.77 L770.16 1044.85 L772.16 1044.92 L774.16 1045 L776.16 1045.07 L778.16 1045.14 L780.16 1045.22 L782.16 1045.29 L784.16 1045.36 L786.16 1045.43 L788.16 1045.51 L790.16 1045.58 L792.16 1045.65 L794.16 1045.73 L796.16 1045.8 L798.15 1045.87 L800.15 1045.95 L802.15 1046.02 L804.14 1046.1 L806.14 1046.17 L808.14 1046.25 L810.13 1046.33 L812.13 1046.4 L814.12 1046.48 L816.12 1046.56 L818.11 1046.64 L820.1 1046.72 L822.1 1046.8 L824.09 1046.88 L826.08 1046.97 L828.07 1047.05 L830.06 1047.14 L832.06 1047.22 L834.05 1047.31 L836.04 1047.4 L836.07 1047.4" stroke="#0000ff" stroke-width="3.9" stroke-linejoin="round"/>
</g>
<path d="M144.95 1038.98h5.3M835.95 1038.98h-5.3M144.95 1019.56h5.3M835.95 1019.56h-5.3M144.95 1000.13h5.3M835.95 1000.13h-5.3M144.95 980.71h5.3M835.95 980.71h-5.3M144.95 961.29h9.8M835.95 961.29h-9.8M144.95 941.87h5.3M835.95 941.87h-5.3M144.95 922.45h5.3M835.95 922.45h-5.3M144.95 903.02h5.3M835.95 903.02h-5.3M144.95 883.6h5.3M835.95 883.6h-5.3M144.95 864.18h9.8M835.95 864.18h-9.8M144.95 844.76h5.3M835.95 844.76h-5.3M144.95 825.34h5.3M835.95 825.34h-5.3M144.95 805.91h5.3M835.95 805.91h-5.3M144.95 786.49h5.3M835.95 786.49h-5.3M144.95 767.07h9.8M835.95 767.07h-9.8M144.95 747.65h5.3M835.95 747.65h-5.3M144.95 728.23h5.3M835.95 728.23h-5.3M144.95 708.8h5.3M835.95 708.8h-5.3M144.95 689.38h5.3M835.95 689.38h-5.3M144.95 669.96h9.8M835.95 669.96h-9.8M144.95 650.54h5.3M835.95 650.54h-5.3M144.95 631.12h5.3M835.95 631.12h-5.3M144.95 611.69h5.3M835.95 611.69h-5.3M144.95 592.27h5.3M835.95 592.27h-5.3M172.59 572.85v5.3M172.59 1058.4v-5.3M200.23 572.85v5.3M200.23 1058.4v-5.3M227.87 572.85v5.3M227.87 1058.4v-5.3M255.51 572.85v5.3M255.51 1058.4v-5.3M283.15 572.85v9.8M283.15 1058.4v-9.8M310.79 572.85v5.3M310.79 1058.4v-5.3M338.43 572.85v5.3M338.43 1058.4v-5.3M366.07 572.85v5.3M366.07 1058.4v-5.3M393.71 572.85v5.3M393.71 1058.4v-5.3M421.35 572.85v9.8M421.35 1058.4v-9.8M448.99 572.85v5.3M448.99 1058.4v-5.3M476.63 572.85v5.3M476.63 1058.4v-5.3M504.27 572.85v5.3M504.27 1058.4v-5.3M531.91 572.85v5.3M531.91 1058.4v-5.3M559.55 572.85v9.8M559.55 1058.4v-9.8M587.19 572.85v5.3M587.19 1058.4v-5.3M614.83 572.85v5.3M614.83 1058.4v-5.3M642.47 572.85v5.3M642.47 1058.4v-5.3M670.11 572.85v5.3M670.11 1058.4v-5.3M697.75 572.85v9.8M697.75 1058.4v-9.8M725.39 572.85v5.3M725.39 1058.4v-5.3M753.03 572.85v5.3M753.03 1058.4v-5.3M780.67 572.85v5.3M780.67 1058.4v-5.3M808.31 572.85v5.3M808.31 1058.4v-5.3" stroke="#000" stroke-width="2.15" stroke-linecap="round" fill="none"/>
<rect x="144.95" y="572.85" width="691" height="485.55" fill="none" stroke="#000" stroke-width="2.5" stroke-linejoin="round"/>
<path d="M279.6 746L279.6 784" stroke="#0000ff" stroke-width="2.3" fill="none"/>
<path d="M279.6 797.5L274 783L279.6 784.5L285.2 783z" fill="#0000ff"/>
<path d="M587.4 854.6L529.6 854.6" stroke="#ff0000" stroke-width="2.3" fill="none"/>
<path d="M516.1 854.6L530.6 849L529.1 854.6L530.6 860.2z" fill="#ff0000"/>
<text x="495.81" y="662.40" font-size="48.2" textLength="312.16" lengthAdjust="spacing">Equilat. triangle</text>
<text x="494.92" y="729.00" font-size="48.2" textLength="278.62" lengthAdjust="spacing">7.0 – 8.0 GHz</text>
<text transform="translate(207.51,728.50) scale(1.1698,1)" font-size="45.3" class="i" style="fill:#0000ff">η</text>
<text transform="translate(239.61,728.50) scale(1.1053,1)" font-size="45.3" style="fill:#0000ff">=</text>
<text transform="translate(276.20,728.50) scale(0.9600,1)" font-size="46.4" style="fill:#0000ff">0.62</text>
<text transform="translate(604.01,864.80) scale(1.1698,1)" font-size="45.3" class="i" style="fill:#ff0000">η</text>
<text transform="translate(636.11,864.80) scale(1.1053,1)" font-size="45.3" style="fill:#ff0000">=</text>
<text transform="translate(672.72,864.80) scale(0.9502,1)" font-size="46.4" style="fill:#ff0000">0.18</text>
<text transform="translate(78.27,1070.40) scale(1.0068,1)" font-size="45.1">0.0</text>
<text transform="translate(78.23,973.29) scale(0.9698,1)" font-size="45.1">0.5</text>
<text transform="translate(80.90,876.18) scale(0.9587,1)" font-size="45.1">1.0</text>
<text transform="translate(80.85,779.07) scale(0.9220,1)" font-size="45.1">1.5</text>
<text transform="translate(77.48,681.96) scale(1.0213,1)" font-size="45.1">2.0</text>
<text transform="translate(77.66,584.85) scale(0.9804,1)" font-size="45.1">2.5</text>
<text transform="translate(115.82,1102.40) scale(1.0068,1)" font-size="45.1">0.0</text>
<text transform="translate(254.58,1102.40) scale(0.9698,1)" font-size="45.1">0.5</text>
<text transform="translate(394.55,1102.40) scale(0.9587,1)" font-size="45.1">1.0</text>
<text transform="translate(533.00,1102.40) scale(0.9220,1)" font-size="45.1">1.5</text>
<text transform="translate(667.97,1102.40) scale(1.0223,1)" font-size="45.1">2.0</text>
<text transform="translate(806.50,1102.40) scale(0.9823,1)" font-size="45.1">2.5</text></g>
<g><g clip-path="url(#c3)" fill="none">
<g stroke="#0000ff" stroke-width="3.15"><circle cx="941.81" cy="1057.8" r="9.25"/><circle cx="955.63" cy="1057.6" r="9.25"/><circle cx="969.45" cy="1057.2" r="9.25"/><circle cx="983.28" cy="1056" r="9.25"/><circle cx="997.1" cy="1052.1" r="9.25"/><circle cx="1010.92" cy="1044.7" r="9.25"/><circle cx="1024.74" cy="1041.5" r="9.25"/><circle cx="1038.57" cy="1031" r="9.25"/><circle cx="1052.39" cy="1025.3" r="9.25"/><circle cx="1066.21" cy="1002.1" r="9.25"/><circle cx="1080.03" cy="949.44" r="9.25"/><circle cx="1093.85" cy="892.71" r="9.25"/><circle cx="1107.67" cy="842.3" r="9.25"/><circle cx="1121.5" cy="819.9" r="9.25"/><circle cx="1135.32" cy="804.6" r="9.25"/><circle cx="1149.14" cy="786.8" r="9.25"/><circle cx="1176.79" cy="796.7" r="9.25"/><circle cx="1190.61" cy="839" r="9.25"/><circle cx="1204.43" cy="858.2" r="9.25"/><circle cx="1218.25" cy="870.45" r="9.25"/><circle cx="1232.07" cy="896.2" r="9.25"/><circle cx="1245.89" cy="920.64" r="9.25"/><circle cx="1259.72" cy="939.62" r="9.25"/><circle cx="1273.54" cy="961" r="9.25"/><circle cx="1287.36" cy="979.55" r="9.25"/><circle cx="1301.18" cy="983.91" r="9.25"/><circle cx="1315.01" cy="990.45" r="9.25"/><circle cx="1328.83" cy="998.09" r="9.25"/><circle cx="1342.65" cy="1004.64" r="9.25"/><circle cx="1356.47" cy="1009" r="9.25"/><circle cx="1370.29" cy="1017.73" r="9.25"/><circle cx="1384.12" cy="1018.82" r="9.25"/><circle cx="1397.94" cy="1024.27" r="9.25"/><circle cx="1411.76" cy="1027.55" r="9.25"/><circle cx="1425.58" cy="1031.91" r="9.25"/><circle cx="1439.4" cy="1036.7" r="9.25"/><circle cx="1453.22" cy="1041.2" r="9.25"/><circle cx="1467.05" cy="1043.1" r="9.25"/><circle cx="1480.87" cy="1043.7" r="9.25"/><circle cx="1494.69" cy="1045" r="9.25"/><circle cx="1508.51" cy="1045.7" r="9.25"/><circle cx="1522.34" cy="1049.5" r="9.25"/><circle cx="1536.16" cy="1046.9" r="9.25"/><circle cx="1549.98" cy="1048.8" r="9.25"/><circle cx="1563.8" cy="1050.1" r="9.25"/><circle cx="1577.62" cy="1052" r="9.25"/><circle cx="1591.44" cy="1052.7" r="9.25"/><circle cx="1605.27" cy="1052" r="9.25"/><circle cx="1619.09" cy="1053.3" r="9.25"/></g>
<path d="M933.91 1050.5h15.8v15.8h-15.8zM947.73 1050.5h15.8v15.8h-15.8zM961.55 1050.5h15.8v15.8h-15.8zM975.38 1050.5h15.8v15.8h-15.8zM989.2 1050.5h15.8v15.8h-15.8zM1003.02 1050.5h15.8v15.8h-15.8zM1016.84 1050.5h15.8v15.8h-15.8zM1030.66 1050.5h15.8v15.8h-15.8zM1044.49 1050.5h15.8v15.8h-15.8zM1058.31 1050.5h15.8v15.8h-15.8zM1072.13 1047.5h15.8v15.8h-15.8zM1085.95 1044.3h15.8v15.8h-15.8zM1099.77 1038.6h15.8v15.8h-15.8zM1113.6 1014.85h15.8v15.8h-15.8zM1127.42 980.37h15.8v15.8h-15.8zM1141.24 852.74h15.8v15.8h-15.8zM1155.06 725.92h15.8v15.8h-15.8zM1168.88 607.45h15.8v15.8h-15.8zM1182.71 602.65h15.8v15.8h-15.8zM1196.53 616.39h15.8v15.8h-15.8zM1210.35 661.55h15.8v15.8h-15.8zM1224.17 713.48h15.8v15.8h-15.8zM1237.99 769.99h15.8v15.8h-15.8zM1251.82 828.74h15.8v15.8h-15.8zM1265.64 878.26h15.8v15.8h-15.8zM1279.46 927.57h15.8v15.8h-15.8zM1293.28 953.75h15.8v15.8h-15.8zM1307.11 977.75h15.8v15.8h-15.8zM1320.93 1001.1h15.8v15.8h-15.8zM1334.75 1015.28h15.8v15.8h-15.8zM1348.57 1021.83h15.8v15.8h-15.8zM1362.39 1028.37h15.8v15.8h-15.8zM1376.21 1032.74h15.8v15.8h-15.8zM1390.04 1037.1h15.8v15.8h-15.8zM1403.86 1039.72h15.8v15.8h-15.8zM1417.68 1041.46h15.8v15.8h-15.8zM1431.5 1044.1h15.8v15.8h-15.8zM1445.32 1046.1h15.8v15.8h-15.8zM1459.15 1048.1h15.8v15.8h-15.8zM1472.97 1049.6h15.8v15.8h-15.8zM1486.79 1051.6h15.8v15.8h-15.8zM1500.61 1051.6h15.8v15.8h-15.8zM1514.43 1051.6h15.8v15.8h-15.8zM1528.26 1051.6h15.8v15.8h-15.8zM1542.08 1051.6h15.8v15.8h-15.8zM1555.9 1051.6h15.8v15.8h-15.8zM1569.72 1051.6h15.8v15.8h-15.8zM1583.54 1051.6h15.8v15.8h-15.8zM1597.37 1051.6h15.8v15.8h-15.8zM1611.19 1056.5h15.8v15.8h-15.8z" stroke="#ff0000" stroke-width="3.15" stroke-linejoin="round"/>
<path d="M934.9 1058.3 L936.91 1058.35 L938.92 1058.39 L940.93 1058.42 L942.93 1058.45 L944.94 1058.47 L946.94 1058.49 L948.95 1058.5 L950.95 1058.51 L952.95 1058.51 L954.96 1058.5 L956.96 1058.49 L958.96 1058.48 L960.96 1058.46 L962.96 1058.45 L964.96 1058.42 L966.96 1058.4 L968.96 1058.38 L970.95 1058.35 L972.95 1058.32 L974.95 1058.29 L976.94 1058.26 L978.94 1058.23 L980.93 1058.2 L982.93 1058.17 L984.92 1058.15 L986.91 1058.12 L988.9 1058.09 L990.9 1058.07 L992.89 1058.05 L994.88 1058.03 L996.87 1058.02 L998.86 1058.01 L1000.85 1058 L1002.84 1058 L1004.83 1058 L1006.82 1058.01 L1008.81 1058.02 L1010.8 1058.04 L1012.78 1058.06 L1014.77 1058.09 L1016.76 1058.13 L1018.75 1058.17 L1020.73 1058.22 L1022.72 1058.27 L1024.71 1058.32 L1026.71 1058.38 L1028.7 1058.44 L1030.7 1058.49 L1032.7 1058.55 L1034.7 1058.6 L1036.7 1058.65 L1038.71 1058.7 L1040.73 1058.74 L1042.75 1058.77 L1044.77 1058.8 L1046.8 1058.82 L1048.84 1058.83 L1050.88 1058.83 L1052.93 1058.82 L1054.99 1058.8 L1057.05 1058.76 L1059.12 1058.71 L1061.19 1058.64 L1063.26 1058.54 L1065.33 1058.43 L1067.4 1058.29 L1069.45 1058.11 L1071.5 1057.91 L1073.53 1057.67 L1075.54 1057.4 L1077.54 1057.08 L1079.52 1056.72 L1081.47 1056.32 L1083.4 1055.87 L1085.3 1055.37 L1087.17 1054.81 L1089.01 1054.2 L1090.81 1053.53 L1092.57 1052.8 L1094.29 1052.01 L1095.97 1051.15 L1097.61 1050.24 L1099.21 1049.26 L1100.77 1048.23 L1102.29 1047.14 L1103.77 1046 L1105.22 1044.81 L1106.63 1043.56 L1108 1042.27 L1109.34 1040.93 L1110.64 1039.54 L1111.91 1038.11 L1113.14 1036.64 L1114.34 1035.12 L1115.51 1033.57 L1116.64 1031.98 L1117.74 1030.36 L1118.81 1028.7 L1119.85 1027.01 L1120.85 1025.29 L1121.83 1023.54 L1122.78 1021.76 L1123.7 1019.96 L1124.59 1018.13 L1125.45 1016.28 L1126.28 1014.41 L1127.09 1012.52 L1127.87 1010.62 L1128.63 1008.7 L1129.36 1006.76 L1130.06 1004.81 L1130.75 1002.86 L1131.4 1000.89 L1132.04 998.92 L1132.65 996.94 L1133.24 994.96 L1133.81 992.97 L1134.35 990.99 L1134.88 989 L1135.39 987.02 L1135.87 985.04 L1136.34 983.06 L1136.79 981.08 L1137.22 979.1 L1137.64 977.12 L1138.04 975.14 L1138.42 973.16 L1138.78 971.19 L1139.13 969.21 L1139.47 967.24 L1139.79 965.26 L1140.1 963.29 L1140.4 961.32 L1140.68 959.34 L1140.95 957.37 L1141.21 955.4 L1141.46 953.43 L1141.7 951.46 L1141.92 949.48 L1142.14 947.51 L1142.35 945.54 L1142.56 943.57 L1142.75 941.6 L1142.94 939.62 L1143.12 937.65 L1143.29 935.68 L1143.46 933.71 L1143.63 931.73 L1143.78 929.76 L1143.94 927.78 L1144.09 925.81 L1144.24 923.83 L1144.39 921.86 L1144.53 919.88 L1144.68 917.9 L1144.82 915.92 L1144.96 913.94 L1145.11 911.96 L1145.25 909.98 L1145.4 908 L1145.54 906.02 L1145.69 904.03 L1145.83 902.05 L1145.98 900.06 L1146.12 898.07 L1146.27 896.09 L1146.42 894.1 L1146.56 892.11 L1146.71 890.12 L1146.86 888.13 L1147.01 886.14 L1147.16 884.15 L1147.31 882.16 L1147.47 880.16 L1147.62 878.17 L1147.77 876.18 L1147.93 874.18 L1148.08 872.19 L1148.24 870.19 L1148.39 868.2 L1148.55 866.2 L1148.71 864.2 L1148.87 862.21 L1149.03 860.21 L1149.19 858.21 L1149.35 856.21 L1149.51 854.22 L1149.68 852.22 L1149.84 850.22 L1150.01 848.22 L1150.17 846.22 L1150.34 844.22 L1150.51 842.22 L1150.68 840.22 L1150.85 838.23 L1151.03 836.23 L1151.2 834.23 L1151.38 832.23 L1151.55 830.23 L1151.73 828.23 L1151.91 826.23 L1152.09 824.23 L1152.27 822.23 L1152.45 820.23 L1152.64 818.23 L1152.82 816.24 L1153.01 814.24 L1153.2 812.24 L1153.39 810.24 L1153.58 808.24 L1153.77 806.25 L1153.96 804.25 L1154.16 802.25 L1154.36 800.26 L1154.56 798.26 L1154.76 796.27 L1154.96 794.27 L1155.16 792.28 L1155.37 790.28 L1155.58 788.29 L1155.79 786.3 L1156 784.31 L1156.21 782.31 L1156.42 780.32 L1156.64 778.33 L1156.86 776.34 L1157.08 774.35 L1157.3 772.37 L1157.52 770.38 L1157.75 768.39 L1157.97 766.41 L1158.2 764.42 L1158.43 762.44 L1158.67 760.45 L1158.9 758.47 L1159.14 756.49 L1159.38 754.51 L1159.62 752.53 L1159.86 750.55 L1160.11 748.57 L1160.35 746.6 L1160.6 744.62 L1160.85 742.64 L1161.09 740.67 L1161.34 738.69 L1161.59 736.71 L1161.84 734.74 L1162.09 732.76 L1162.33 730.79 L1162.58 728.81 L1162.83 726.83 L1163.07 724.86 L1163.31 722.88 L1163.56 720.9 L1163.8 718.93 L1164.03 716.95 L1164.27 714.97 L1164.5 712.99 L1164.73 711.01 L1164.96 709.03 L1165.19 707.04 L1165.41 705.06 L1165.63 703.08 L1165.84 701.09 L1166.05 699.1 L1166.26 697.11 L1166.46 695.12 L1166.66 693.13 L1166.85 691.14 L1167.04 689.14 L1167.22 687.14 L1167.4 685.14 L1167.57 683.14 L1167.74 681.14 L1167.9 679.13 L1168.05 677.12 L1168.2 675.11 L1168.35 673.1 L1168.49 671.09 L1168.63 669.08 L1168.77 667.06 L1168.91 665.05 L1169.05 663.04 L1169.19 661.02 L1169.34 659.01 L1169.49 657 L1169.64 654.99 L1169.8 652.98 L1169.97 650.98 L1170.15 648.98 L1170.34 646.98 L1170.54 644.98 L1170.75 642.99 L1170.97 641.01 L1171.21 639.02 L1171.47 637.05 L1171.74 635.08 L1172.03 633.12 L1172.35 631.17 L1172.71 629.23 L1173.1 627.3 L1173.52 625.39 L1173.99 623.5 L1174.51 621.63 L1175.08 619.78 L1175.7 617.96 L1176.38 616.15 L1177.12 614.38 L1177.93 612.63 L1178.81 610.92 L1179.77 609.24 L1180.8 607.59 L1181.92 605.98 L1182.5 605.2 L1184.38 605.89 L1186.16 606.73 L1187.85 607.7 L1189.46 608.8 L1190.99 610.02 L1192.46 611.33 L1193.86 612.72 L1195.22 614.19 L1196.53 615.72 L1197.81 617.29 L1199.07 618.89 L1200.31 620.5 L1201.54 622.13 L1202.77 623.74 L1204 625.33 L1205.26 626.89 L1206.53 628.39 L1207.84 629.84 L1208 630 L1208.5 631.93 L1209 633.85 L1209.5 635.78 L1210 637.71 L1210.5 639.64 L1211 641.57 L1211.49 643.5 L1211.99 645.43 L1212.48 647.36 L1212.98 649.3 L1213.47 651.23 L1213.96 653.17 L1214.45 655.1 L1214.94 657.04 L1215.43 658.98 L1215.91 660.92 L1216.4 662.85 L1216.88 664.79 L1217.37 666.73 L1217.85 668.67 L1218.34 670.61 L1218.82 672.55 L1219.3 674.5 L1219.78 676.44 L1220.26 678.38 L1220.74 680.32 L1221.22 682.27 L1221.7 684.21 L1222.18 686.16 L1222.66 688.1 L1223.14 690.05 L1223.61 691.99 L1224.09 693.94 L1224.57 695.88 L1225.04 697.83 L1225.52 699.78 L1225.99 701.72 L1226.47 703.67 L1226.94 705.62 L1227.42 707.57 L1227.89 709.51 L1228.37 711.46 L1228.84 713.41 L1229.31 715.36 L1229.79 717.3 L1230.26 719.25 L1230.74 721.2 L1231.21 723.15 L1231.68 725.1 L1232.16 727.04 L1232.63 728.99 L1233.1 730.94 L1233.58 732.89 L1234.05 734.83 L1234.53 736.78 L1235 738.73 L1235.48 740.67 L1235.95 742.62 L1236.42 744.57 L1236.9 746.51 L1237.38 748.46 L1237.85 750.41 L1238.33 752.35 L1238.81 754.3 L1239.28 756.24 L1239.76 758.18 L1240.24 760.13 L1240.72 762.07 L1241.2 764.01 L1241.68 765.96 L1242.16 767.9 L1242.64 769.84 L1243.12 771.78 L1243.6 773.72 L1244.08 775.66 L1244.57 777.6 L1245.05 779.54 L1245.54 781.48 L1246.02 783.42 L1246.51 785.35 L1247 787.29 L1247.48 789.22 L1247.97 791.16 L1248.46 793.09 L1248.95 795.03 L1249.45 796.96 L1249.94 798.89 L1250.43 800.82 L1250.93 802.75 L1251.42 804.68 L1251.92 806.61 L1252.42 808.54 L1252.92 810.46 L1253.42 812.39 L1253.92 814.31 L1254.42 816.24 L1254.93 818.16 L1255.43 820.09 L1255.93 822.01 L1256.44 823.93 L1256.95 825.86 L1257.46 827.78 L1257.97 829.7 L1258.48 831.62 L1258.99 833.55 L1259.5 835.47 L1260.01 837.39 L1260.53 839.31 L1261.04 841.23 L1261.56 843.16 L1262.07 845.08 L1262.59 847 L1263.11 848.92 L1263.63 850.85 L1264.15 852.77 L1264.67 854.69 L1265.19 856.62 L1265.71 858.54 L1266.24 860.47 L1266.76 862.39 L1267.29 864.32 L1267.81 866.25 L1268.34 868.18 L1268.87 870.11 L1269.39 872.04 L1269.92 873.97 L1270.45 875.9 L1270.98 877.83 L1271.52 879.77 L1272.05 881.7 L1272.58 883.64 L1273.11 885.58 L1273.65 887.51 L1274.18 889.45 L1274.72 891.4 L1275.26 893.34 L1275.8 895.28 L1276.34 897.22 L1276.89 899.17 L1277.43 901.11 L1277.99 903.05 L1278.54 904.99 L1279.1 906.93 L1279.67 908.87 L1280.24 910.81 L1280.82 912.75 L1281.4 914.68 L1281.99 916.61 L1282.59 918.54 L1283.19 920.47 L1283.8 922.39 L1284.42 924.31 L1285.05 926.23 L1285.69 928.14 L1286.34 930.05 L1286.99 931.96 L1287.66 933.86 L1288.34 935.75 L1289.03 937.64 L1289.73 939.53 L1290.45 941.41 L1291.18 943.28 L1291.92 945.15 L1292.67 947.01 L1293.44 948.87 L1294.22 950.72 L1295.01 952.56 L1295.82 954.39 L1296.65 956.22 L1297.49 958.04 L1298.35 959.85 L1299.23 961.65 L1300.12 963.45 L1301.03 965.23 L1301.96 967.01 L1302.9 968.78 L1303.87 970.53 L1304.85 972.28 L1305.86 974.02 L1306.88 975.74 L1307.92 977.46 L1308.99 979.16 L1310.06 980.86 L1311.16 982.53 L1312.28 984.2 L1313.42 985.85 L1314.57 987.49 L1315.74 989.12 L1316.93 990.73 L1318.14 992.32 L1319.37 993.9 L1320.62 995.46 L1321.88 997.01 L1323.16 998.54 L1324.46 1000.05 L1325.78 1001.55 L1327.11 1003.02 L1328.46 1004.48 L1329.83 1005.92 L1331.21 1007.33 L1332.62 1008.73 L1334.04 1010.11 L1335.47 1011.46 L1336.93 1012.8 L1338.4 1014.11 L1339.88 1015.4 L1341.39 1016.67 L1342.91 1017.91 L1344.44 1019.13 L1346 1020.33 L1347.57 1021.5 L1349.15 1022.65 L1350.75 1023.77 L1352.37 1024.86 L1354 1025.93 L1355.65 1026.97 L1357.32 1027.99 L1359 1028.97 L1360.69 1029.93 L1362.4 1030.86 L1364.13 1031.76 L1365.87 1032.63 L1367.62 1033.47 L1369.39 1034.28 L1371.18 1035.07 L1372.98 1035.82 L1374.79 1036.55 L1376.62 1037.25 L1378.45 1037.92 L1380.3 1038.57 L1382.17 1039.19 L1384.04 1039.78 L1385.92 1040.36 L1387.82 1040.91 L1389.73 1041.43 L1391.64 1041.94 L1393.57 1042.42 L1395.5 1042.88 L1397.45 1043.32 L1399.4 1043.74 L1401.36 1044.14 L1403.33 1044.52 L1405.3 1044.88 L1407.28 1045.22 L1409.27 1045.55 L1411.27 1045.86 L1413.27 1046.16 L1415.27 1046.44 L1417.28 1046.7 L1419.3 1046.95 L1421.32 1047.19 L1423.34 1047.41 L1425.37 1047.62 L1427.39 1047.82 L1429.43 1048.01 L1431.46 1048.19 L1433.49 1048.36 L1435.53 1048.51 L1437.57 1048.66 L1439.61 1048.8 L1441.65 1048.93 L1443.68 1049.06 L1445.72 1049.18 L1447.76 1049.29 L1449.79 1049.39 L1451.83 1049.5 L1453.86 1049.59 L1455.89 1049.68 L1457.92 1049.77 L1459.94 1049.86 L1461.96 1049.94 L1463.99 1050.02 L1466.01 1050.09 L1468.02 1050.16 L1470.04 1050.22 L1472.05 1050.28 L1474.07 1050.34 L1476.08 1050.4 L1478.09 1050.45 L1480.1 1050.5 L1482.1 1050.54 L1484.11 1050.58 L1486.11 1050.62 L1488.11 1050.66 L1490.11 1050.69 L1492.11 1050.72 L1494.11 1050.75 L1496.11 1050.77 L1498.11 1050.8 L1500.1 1050.82 L1502.1 1050.84 L1504.09 1050.85 L1506.08 1050.86 L1508.07 1050.88 L1510.06 1050.89 L1512.05 1050.89 L1514.04 1050.9 L1516.03 1050.9 L1518.02 1050.9 L1520.01 1050.91 L1521.99 1050.9 L1523.98 1050.9 L1525.97 1050.9 L1527.95 1050.89 L1529.94 1050.89 L1531.92 1050.88 L1533.91 1050.87 L1535.89 1050.86 L1537.88 1050.85 L1539.86 1050.84 L1541.85 1050.83 L1543.83 1050.82 L1545.81 1050.81 L1547.8 1050.8 L1549.78 1050.78 L1551.77 1050.77 L1553.75 1050.76 L1555.74 1050.74 L1557.72 1050.73 L1559.71 1050.72 L1561.7 1050.7 L1563.68 1050.69 L1565.67 1050.68 L1567.66 1050.67 L1569.65 1050.66 L1571.64 1050.64 L1573.63 1050.63 L1575.62 1050.62 L1577.61 1050.62 L1579.6 1050.61 L1581.6 1050.6 L1583.59 1050.6 L1585.59 1050.59 L1587.58 1050.59 L1589.58 1050.59 L1591.58 1050.59 L1593.58 1050.59 L1595.58 1050.59 L1597.58 1050.6 L1599.59 1050.6 L1601.59 1050.61 L1603.6 1050.62 L1605.61 1050.63 L1607.61 1050.65 L1609.63 1050.66 L1611.64 1050.68 L1613.65 1050.7 L1615.67 1050.73 L1617.69 1050.75 L1619.71 1050.78 L1621.73 1050.81 L1623.75 1050.85 L1625.78 1050.89 L1626.07 1050.89" stroke="#ff0000" stroke-width="3.9" stroke-linejoin="round"/>
<path d="M934.9 1055.2 L936.88 1055.15 L938.86 1055.11 L940.84 1055.06 L942.83 1055.02 L944.82 1054.97 L946.82 1054.92 L948.82 1054.88 L950.82 1054.83 L952.82 1054.77 L954.83 1054.72 L956.84 1054.66 L958.85 1054.59 L960.86 1054.52 L962.87 1054.45 L964.88 1054.36 L966.89 1054.28 L968.9 1054.18 L970.91 1054.07 L972.92 1053.96 L974.92 1053.84 L976.93 1053.71 L978.94 1053.56 L980.94 1053.41 L982.94 1053.24 L984.94 1053.06 L986.93 1052.87 L988.92 1052.67 L990.91 1052.45 L992.89 1052.21 L994.87 1051.96 L996.85 1051.7 L998.82 1051.41 L1000.78 1051.11 L1002.74 1050.79 L1004.68 1050.43 L1006.62 1050.05 L1008.55 1049.63 L1010.47 1049.18 L1012.37 1048.69 L1014.26 1048.15 L1016.13 1047.57 L1017.99 1046.94 L1019.83 1046.25 L1021.65 1045.51 L1023.46 1044.71 L1025.24 1043.84 L1027 1042.91 L1028.73 1041.91 L1030.44 1040.86 L1032.13 1039.74 L1033.79 1038.57 L1035.42 1037.36 L1037.02 1036.09 L1038.59 1034.78 L1040.13 1033.43 L1041.63 1032.03 L1043.1 1030.61 L1044.53 1029.15 L1045.93 1027.66 L1047.29 1026.15 L1048.61 1024.61 L1049.88 1023.05 L1051.12 1021.48 L1052.32 1019.88 L1053.48 1018.27 L1054.6 1016.64 L1055.69 1014.99 L1056.75 1013.33 L1057.77 1011.65 L1058.76 1009.95 L1059.71 1008.24 L1060.64 1006.51 L1061.54 1004.77 L1062.41 1003.02 L1063.25 1001.25 L1064.07 999.47 L1064.86 997.67 L1065.63 995.87 L1066.38 994.05 L1067.1 992.22 L1067.81 990.38 L1068.49 988.53 L1069.16 986.67 L1069.81 984.8 L1070.44 982.92 L1071.06 981.04 L1071.67 979.14 L1072.26 977.24 L1072.84 975.33 L1073.41 973.42 L1073.97 971.5 L1074.53 969.57 L1075.07 967.64 L1075.61 965.71 L1076.14 963.77 L1076.67 961.82 L1077.19 959.87 L1077.7 957.92 L1078.21 955.97 L1078.71 954.01 L1079.21 952.05 L1079.7 950.09 L1080.19 948.13 L1080.68 946.16 L1081.16 944.2 L1081.64 942.23 L1082.11 940.27 L1082.58 938.3 L1083.05 936.33 L1083.52 934.37 L1083.98 932.4 L1084.44 930.44 L1084.91 928.48 L1085.37 926.52 L1085.83 924.56 L1086.28 922.61 L1086.74 920.65 L1087.2 918.71 L1087.66 916.76 L1088.12 914.82 L1088.58 912.88 L1089.04 910.95 L1089.51 909.03 L1089.97 907.1 L1090.44 905.19 L1090.9 903.27 L1091.37 901.36 L1091.84 899.45 L1092.31 897.54 L1092.78 895.64 L1093.25 893.73 L1093.72 891.83 L1094.19 889.92 L1094.66 888.02 L1095.13 886.11 L1095.59 884.2 L1096.06 882.29 L1096.53 880.38 L1096.99 878.47 L1097.46 876.55 L1097.92 874.63 L1098.38 872.7 L1098.84 870.77 L1099.3 868.83 L1099.76 866.89 L1100.21 864.94 L1100.66 862.98 L1101.11 861.02 L1101.56 859.05 L1102 857.07 L1102.44 855.08 L1102.88 853.08 L1103.31 851.07 L1103.74 849.05 L1104.17 847.02 L1104.61 844.99 L1105.04 842.96 L1105.49 840.92 L1105.94 838.89 L1106.41 836.87 L1106.9 834.85 L1107.4 832.84 L1107.93 830.85 L1108.48 828.87 L1109.06 826.91 L1109.66 824.98 L1110.3 823.06 L1110.98 821.18 L1111.69 819.32 L1112.45 817.5 L1113.25 815.71 L1114.1 813.95 L1114.99 812.24 L1115.94 810.57 L1116.94 808.95 L1118.01 807.37 L1119.13 805.85 L1120.31 804.38 L1121.57 802.96 L1122.89 801.6 L1124.28 800.31 L1125.75 799.08 L1127.3 797.91 L1128.92 796.82 L1130.62 795.81 L1132.37 794.91 L1134.18 794.12 L1136.04 793.47 L1137.93 792.97 L1139.84 792.63 L1141.78 792.48 L1143.72 792.53 L1145.66 792.75 L1147.59 793.15 L1149.51 793.69 L1151.41 794.37 L1153.27 795.17 L1155.1 796.07 L1156.89 797.05 L1158.62 798.1 L1160.3 799.21 L1161.94 800.38 L1163.53 801.61 L1165.08 802.89 L1166.59 804.21 L1168.06 805.58 L1169.5 806.99 L1170.91 808.43 L1172.29 809.91 L1173.64 811.41 L1174.96 812.94 L1176.27 814.48 L1177.55 816.04 L1178.82 817.62 L1180.08 819.2 L1181.32 820.79 L1182.55 822.38 L1183.77 823.98 L1184.97 825.59 L1186.17 827.21 L1187.35 828.83 L1188.53 830.45 L1189.7 832.08 L1190.85 833.71 L1192 835.35 L1193.14 837 L1194.28 838.64 L1195.41 840.29 L1196.53 841.94 L1197.65 843.6 L1198.76 845.26 L1199.87 846.92 L1200.97 848.58 L1202.07 850.24 L1203.17 851.9 L1204.27 853.56 L1205.37 855.23 L1206.47 856.89 L1207.56 858.55 L1208.66 860.21 L1209.76 861.87 L1210.86 863.53 L1211.96 865.19 L1213.07 866.84 L1214.18 868.5 L1215.29 870.15 L1216.4 871.79 L1217.52 873.44 L1218.64 875.08 L1219.76 876.73 L1220.88 878.37 L1222.01 880.01 L1223.13 881.66 L1224.26 883.3 L1225.38 884.94 L1226.51 886.58 L1227.63 888.23 L1228.76 889.87 L1229.88 891.52 L1231 893.17 L1232.13 894.82 L1233.24 896.47 L1234.36 898.12 L1235.47 899.78 L1236.59 901.44 L1237.69 903.1 L1238.8 904.77 L1239.9 906.44 L1240.99 908.12 L1242.08 909.8 L1243.17 911.49 L1244.25 913.18 L1245.33 914.87 L1246.4 916.57 L1247.46 918.28 L1248.52 919.99 L1249.57 921.71 L1250.62 923.44 L1251.66 925.16 L1252.7 926.89 L1253.74 928.62 L1254.78 930.36 L1255.82 932.09 L1256.87 933.82 L1257.91 935.54 L1258.96 937.27 L1260.01 938.99 L1261.06 940.71 L1262.13 942.41 L1263.2 944.12 L1264.28 945.81 L1265.37 947.5 L1266.46 949.18 L1267.57 950.84 L1268.7 952.5 L1269.83 954.14 L1270.98 955.77 L1272.15 957.38 L1273.33 958.98 L1274.53 960.57 L1275.74 962.13 L1276.98 963.68 L1278.24 965.21 L1279.51 966.72 L1280.81 968.21 L1282.14 969.68 L1283.48 971.12 L1284.85 972.55 L1286.24 973.95 L1287.65 975.33 L1289.08 976.69 L1290.53 978.04 L1292 979.36 L1293.49 980.66 L1295 981.94 L1296.52 983.2 L1298.07 984.45 L1299.63 985.67 L1301.21 986.87 L1302.8 988.06 L1304.41 989.23 L1306.03 990.38 L1307.67 991.51 L1309.32 992.62 L1310.99 993.72 L1312.67 994.8 L1314.36 995.86 L1316.06 996.91 L1317.77 997.94 L1319.5 998.95 L1321.24 999.95 L1322.98 1000.93 L1324.74 1001.89 L1326.5 1002.84 L1328.27 1003.78 L1330.05 1004.7 L1331.84 1005.6 L1333.64 1006.49 L1335.44 1007.37 L1337.25 1008.23 L1339.06 1009.08 L1340.88 1009.91 L1342.71 1010.73 L1344.55 1011.54 L1346.39 1012.33 L1348.23 1013.12 L1350.08 1013.88 L1351.94 1014.64 L1353.8 1015.38 L1355.67 1016.11 L1357.54 1016.83 L1359.42 1017.54 L1361.3 1018.24 L1363.18 1018.92 L1365.07 1019.6 L1366.96 1020.26 L1368.86 1020.91 L1370.76 1021.55 L1372.66 1022.18 L1374.57 1022.8 L1376.48 1023.41 L1378.39 1024.02 L1380.3 1024.61 L1382.22 1025.19 L1384.14 1025.76 L1386.06 1026.33 L1387.98 1026.88 L1389.91 1027.43 L1391.84 1027.97 L1393.76 1028.5 L1395.69 1029.02 L1397.63 1029.53 L1399.56 1030.04 L1401.5 1030.53 L1403.43 1031.02 L1405.37 1031.5 L1407.31 1031.97 L1409.25 1032.44 L1411.2 1032.89 L1413.14 1033.34 L1415.09 1033.78 L1417.04 1034.22 L1418.99 1034.64 L1420.94 1035.06 L1422.89 1035.47 L1424.85 1035.88 L1426.8 1036.27 L1428.76 1036.66 L1430.72 1037.05 L1432.68 1037.42 L1434.64 1037.79 L1436.6 1038.15 L1438.56 1038.51 L1440.53 1038.86 L1442.49 1039.2 L1444.46 1039.54 L1446.43 1039.87 L1448.4 1040.19 L1450.37 1040.51 L1452.34 1040.82 L1454.31 1041.12 L1456.29 1041.42 L1458.26 1041.71 L1460.24 1042 L1462.22 1042.28 L1464.2 1042.56 L1466.18 1042.82 L1468.16 1043.09 L1470.14 1043.35 L1472.12 1043.6 L1474.1 1043.85 L1476.09 1044.09 L1478.07 1044.33 L1480.06 1044.56 L1482.04 1044.79 L1484.03 1045.01 L1486.02 1045.23 L1488.01 1045.44 L1490 1045.65 L1491.99 1045.85 L1493.98 1046.05 L1495.97 1046.25 L1497.96 1046.44 L1499.95 1046.62 L1501.95 1046.8 L1503.94 1046.98 L1505.94 1047.16 L1507.93 1047.32 L1509.93 1047.49 L1511.92 1047.65 L1513.92 1047.81 L1515.92 1047.96 L1517.92 1048.11 L1519.91 1048.26 L1521.91 1048.41 L1523.91 1048.55 L1525.91 1048.68 L1527.91 1048.82 L1529.91 1048.95 L1531.91 1049.08 L1533.91 1049.2 L1535.91 1049.32 L1537.91 1049.44 L1539.91 1049.56 L1541.91 1049.67 L1543.91 1049.78 L1545.91 1049.89 L1547.92 1050 L1549.92 1050.1 L1551.92 1050.2 L1553.92 1050.3 L1555.92 1050.4 L1557.92 1050.49 L1559.92 1050.59 L1561.93 1050.68 L1563.93 1050.77 L1565.93 1050.85 L1567.93 1050.94 L1569.93 1051.02 L1571.93 1051.11 L1573.93 1051.19 L1575.93 1051.27 L1577.94 1051.35 L1579.94 1051.42 L1581.94 1051.5 L1583.94 1051.58 L1585.93 1051.65 L1587.93 1051.73 L1589.93 1051.8 L1591.93 1051.87 L1593.93 1051.94 L1595.93 1052.01 L1597.92 1052.08 L1599.92 1052.15 L1601.92 1052.22 L1603.91 1052.29 L1605.91 1052.36 L1607.9 1052.43 L1609.9 1052.5 L1611.89 1052.57 L1613.88 1052.64 L1615.88 1052.71 L1617.87 1052.78 L1619.86 1052.85 L1621.85 1052.92 L1623.84 1052.99 L1625.83 1053.06 L1626.07 1053.07" stroke="#0000ff" stroke-width="3.9" stroke-linejoin="round"/>
</g>
<path d="M934.9 1038.98h5.3M1626 1038.98h-5.3M934.9 1019.56h5.3M1626 1019.56h-5.3M934.9 1000.13h5.3M1626 1000.13h-5.3M934.9 980.71h5.3M1626 980.71h-5.3M934.9 961.29h9.8M1626 961.29h-9.8M934.9 941.87h5.3M1626 941.87h-5.3M934.9 922.45h5.3M1626 922.45h-5.3M934.9 903.02h5.3M1626 903.02h-5.3M934.9 883.6h5.3M1626 883.6h-5.3M934.9 864.18h9.8M1626 864.18h-9.8M934.9 844.76h5.3M1626 844.76h-5.3M934.9 825.34h5.3M1626 825.34h-5.3M934.9 805.91h5.3M1626 805.91h-5.3M934.9 786.49h5.3M1626 786.49h-5.3M934.9 767.07h9.8M1626 767.07h-9.8M934.9 747.65h5.3M1626 747.65h-5.3M934.9 728.23h5.3M1626 728.23h-5.3M934.9 708.8h5.3M1626 708.8h-5.3M934.9 689.38h5.3M1626 689.38h-5.3M934.9 669.96h9.8M1626 669.96h-9.8M934.9 650.54h5.3M1626 650.54h-5.3M934.9 631.12h5.3M1626 631.12h-5.3M934.9 611.69h5.3M1626 611.69h-5.3M934.9 592.27h5.3M1626 592.27h-5.3M962.54 572.85v5.3M962.54 1058.4v-5.3M990.19 572.85v5.3M990.19 1058.4v-5.3M1017.83 572.85v5.3M1017.83 1058.4v-5.3M1045.48 572.85v5.3M1045.48 1058.4v-5.3M1073.12 572.85v9.8M1073.12 1058.4v-9.8M1100.76 572.85v5.3M1100.76 1058.4v-5.3M1128.41 572.85v5.3M1128.41 1058.4v-5.3M1156.05 572.85v5.3M1156.05 1058.4v-5.3M1183.7 572.85v5.3M1183.7 1058.4v-5.3M1211.34 572.85v9.8M1211.34 1058.4v-9.8M1238.98 572.85v5.3M1238.98 1058.4v-5.3M1266.63 572.85v5.3M1266.63 1058.4v-5.3M1294.27 572.85v5.3M1294.27 1058.4v-5.3M1321.92 572.85v5.3M1321.92 1058.4v-5.3M1349.56 572.85v9.8M1349.56 1058.4v-9.8M1377.2 572.85v5.3M1377.2 1058.4v-5.3M1404.85 572.85v5.3M1404.85 1058.4v-5.3M1432.49 572.85v5.3M1432.49 1058.4v-5.3M1460.14 572.85v5.3M1460.14 1058.4v-5.3M1487.78 572.85v9.8M1487.78 1058.4v-9.8M1515.42 572.85v5.3M1515.42 1058.4v-5.3M1543.07 572.85v5.3M1543.07 1058.4v-5.3M1570.71 572.85v5.3M1570.71 1058.4v-5.3M1598.36 572.85v5.3M1598.36 1058.4v-5.3" stroke="#000" stroke-width="2.15" stroke-linecap="round" fill="none"/>
<rect x="934.9" y="572.85" width="691.1" height="485.55" fill="none" stroke="#000" stroke-width="2.5" stroke-linejoin="round"/>
<path d="M1060.1 765L1097.14 801.17" stroke="#0000ff" stroke-width="2.3" fill="none"/>
<path d="M1106.8 810.6L1092.51 804.48L1097.5 801.52L1100.34 796.46z" fill="#0000ff"/>
<path d="M1346.4 863.1L1288.4 863.1" stroke="#ff0000" stroke-width="2.3" fill="none"/>
<path d="M1274.9 863.1L1289.4 857.5L1287.9 863.1L1289.4 868.7z" fill="#ff0000"/>
<text x="1323.58" y="662.80" font-size="48.2" textLength="100.44" lengthAdjust="spacing">Sinai</text>
<text x="1323.53" y="729.30" font-size="48.2" textLength="278.21" lengthAdjust="spacing">6.0 – 7.2 GHz</text>
<text transform="translate(981.41,752.90) scale(1.1698,1)" font-size="45.3" class="i" style="fill:#0000ff">η</text>
<text transform="translate(1013.51,752.90) scale(1.1053,1)" font-size="45.3" style="fill:#0000ff">=</text>
<text transform="translate(1050.12,752.90) scale(0.9502,1)" font-size="46.4" style="fill:#0000ff">0.68</text>
<text transform="translate(1359.61,869.60) scale(1.1698,1)" font-size="45.3" class="i" style="fill:#ff0000">η</text>
<text transform="translate(1391.71,869.60) scale(1.1053,1)" font-size="45.3" style="fill:#ff0000">=</text>
<text transform="translate(1428.30,869.60) scale(0.9600,1)" font-size="46.4" style="fill:#ff0000">0.12</text>
<text transform="translate(905.77,1102.40) scale(1.0068,1)" font-size="45.1">0.0</text>
<text transform="translate(1044.55,1102.40) scale(0.9698,1)" font-size="45.1">0.5</text>
<text transform="translate(1184.54,1102.40) scale(0.9587,1)" font-size="45.1">1.0</text>
<text transform="translate(1323.01,1102.40) scale(0.9220,1)" font-size="45.1">1.5</text>
<text transform="translate(1458.00,1102.40) scale(1.0223,1)" font-size="45.1">2.0</text>
<text transform="translate(1596.55,1102.40) scale(0.9823,1)" font-size="45.1">2.5</text></g>
<g transform="translate(40.8,339.5) rotate(-90)"><text transform="translate(0.1,0) scale(1.067,1)" font-size="60" class="i">P</text><text transform="translate(50.9,0) scale(1.07,1)" font-size="60">(</text><text transform="translate(69.4,0) scale(1.148,1)" font-size="56" class="i">z</text><text transform="translate(92.0,11.5) scale(1.037,1)" font-size="33" class="i">R</text><text transform="translate(110.7,0) scale(1.07,1)" font-size="60">)</text></g>
<g transform="translate(40.8,894.1) rotate(-90)"><text transform="translate(0.1,0) scale(1.067,1)" font-size="60" class="i">P</text><text transform="translate(50.9,0) scale(1.07,1)" font-size="60">(</text><text transform="translate(69.4,0) scale(1.148,1)" font-size="56" class="i">z</text><text transform="translate(92.0,11.5) scale(1.037,1)" font-size="33" class="i">R</text><text transform="translate(110.7,0) scale(1.07,1)" font-size="60">)</text></g>
<text transform="translate(476.9,1158.7) scale(1.148,1)" font-size="56" class="i">z</text><text transform="translate(500.4,1170.2) scale(1.02,1)" font-size="33" class="i">R</text>
<text transform="translate(1266.9,1158.7) scale(1.148,1)" font-size="56" class="i">z</text><text transform="translate(1290.4,1170.2) scale(1.02,1)" font-size="33" class="i">R</text>
</svg>
</body></html>
